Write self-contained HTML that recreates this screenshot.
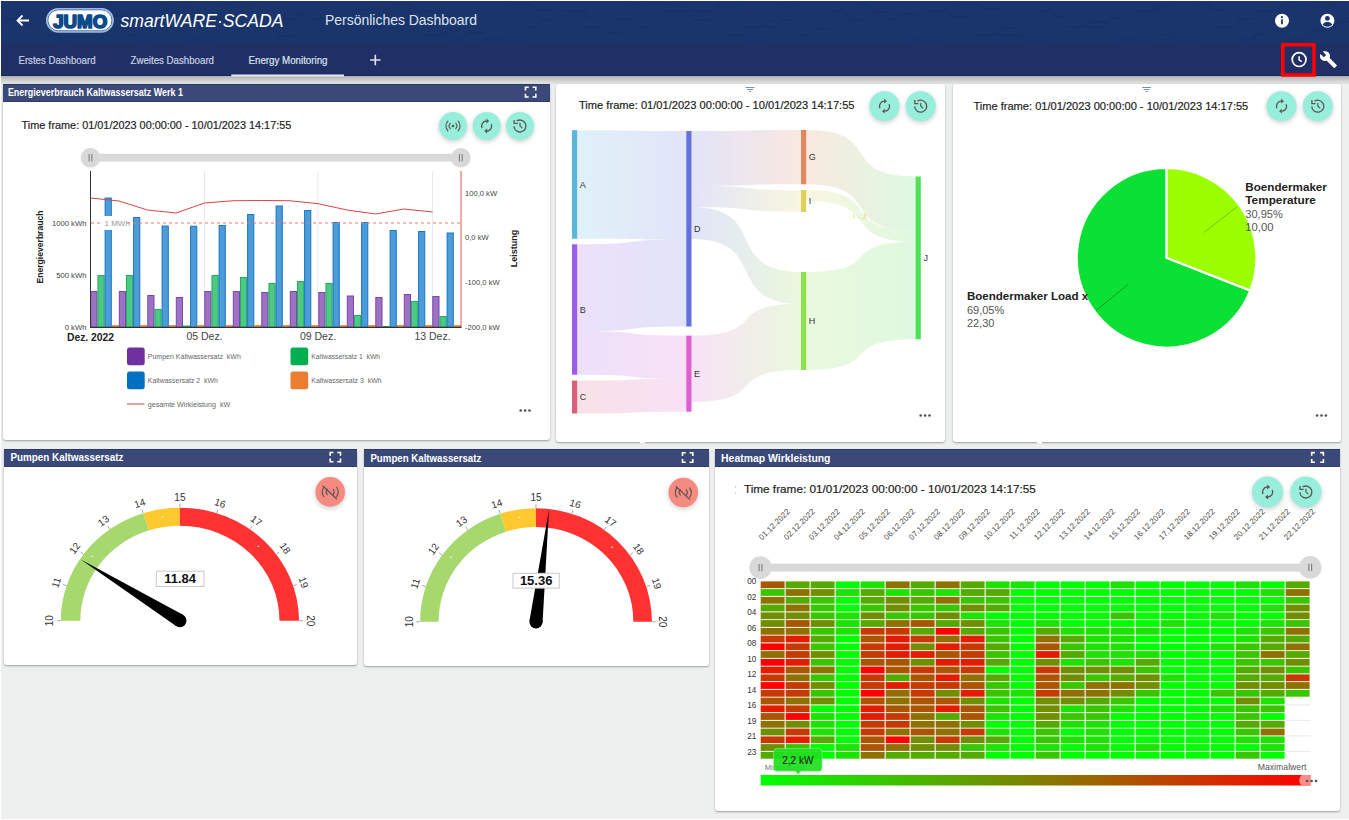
<!DOCTYPE html><html><head><meta charset='utf-8'><title>JUMO smartWARE SCADA</title><style>
*{margin:0;padding:0;box-sizing:border-box}
html,body{width:1349px;height:820px;overflow:hidden;background:#eef0ef;font-family:"Liberation Sans", Arial, sans-serif}
.abs{position:absolute}
#top{position:absolute;left:1px;top:1px;width:1348px;height:42px;background:#19356b}
#tabs{position:absolute;left:1px;top:43px;width:1348px;height:33px;background:#203066;border-bottom:1px solid #17275a}
#shadow{position:absolute;left:1px;top:76px;width:1348px;height:8px;background:linear-gradient(#aeafae,#c4c5c4 35%,#d9dbda 75%,#e2e4e3)}
.panel{position:absolute;background:#fff;border-radius:3px;box-shadow:0 1px 2px rgba(0,0,0,.35)}
.ph{position:absolute;left:0;top:0;right:0;height:18px;background:#3a4977;border-top:1px solid #2b3a6a;border-bottom:1px solid #2e3d6c;color:#fff;font-weight:bold;font-size:10px;line-height:16px;padding-left:6px;white-space:nowrap}
svg text{font-family:"Liberation Sans", Arial, sans-serif}
</style></head><body><div style='position:absolute;left:0;top:0;width:1349px;height:820px;border-left:1px solid #fff;border-top:1px solid #fff;border-bottom:1px solid #fff'></div><div id='top'></div><div id='tabs'></div><div id='shadow'></div><div class='panel' style='left:2.5px;top:83.5px;width:547.5px;height:356.5px'><div class='ph'></div></div><div class='panel' style='left:556px;top:83.5px;width:389px;height:358.5px'></div><div class='panel' style='left:952.5px;top:83.5px;width:388.5px;height:358px'></div><div class='panel' style='left:4px;top:448.5px;width:352.5px;height:216px'><div class='ph'></div></div><div class='panel' style='left:364px;top:449px;width:344.5px;height:217px'><div class='ph'></div></div><div class='panel' style='left:714.5px;top:449px;width:625.5px;height:361.5px'><div class='ph'></div></div><svg class='abs' style='left:0;top:0' width='1349' height='820' viewBox='0 0 1349 820'><defs><filter id='blur' x='-50%' y='-50%' width='200%' height='200%'><feGaussianBlur stdDeviation='2.0'/></filter><linearGradient id='lg0' gradientUnits='userSpaceOnUse' x1='577.2' y1='0' x2='686.3' y2='0'><stop offset='0' stop-color='#5bb6d9'/><stop offset='1' stop-color='#6470dc'/></linearGradient><linearGradient id='lg1' gradientUnits='userSpaceOnUse' x1='577.2' y1='0' x2='686.3' y2='0'><stop offset='0' stop-color='#9b5de5'/><stop offset='1' stop-color='#6470dc'/></linearGradient><linearGradient id='lg2' gradientUnits='userSpaceOnUse' x1='577.2' y1='0' x2='686.3' y2='0'><stop offset='0' stop-color='#9b5de5'/><stop offset='1' stop-color='#dc60d0'/></linearGradient><linearGradient id='lg3' gradientUnits='userSpaceOnUse' x1='577.2' y1='0' x2='686.3' y2='0'><stop offset='0' stop-color='#d9607a'/><stop offset='1' stop-color='#dc60d0'/></linearGradient><linearGradient id='lg4' gradientUnits='userSpaceOnUse' x1='691.5' y1='0' x2='801' y2='0'><stop offset='0' stop-color='#6470dc'/><stop offset='1' stop-color='#e0875e'/></linearGradient><linearGradient id='lg5' gradientUnits='userSpaceOnUse' x1='691.5' y1='0' x2='801' y2='0'><stop offset='0' stop-color='#6470dc'/><stop offset='1' stop-color='#ddd15a'/></linearGradient><linearGradient id='lg6' gradientUnits='userSpaceOnUse' x1='691.5' y1='0' x2='801' y2='0'><stop offset='0' stop-color='#6470dc'/><stop offset='1' stop-color='#8fe04f'/></linearGradient><linearGradient id='lg7' gradientUnits='userSpaceOnUse' x1='691.5' y1='0' x2='801' y2='0'><stop offset='0' stop-color='#dc60d0'/><stop offset='1' stop-color='#8fe04f'/></linearGradient><linearGradient id='lg8' gradientUnits='userSpaceOnUse' x1='806.2' y1='0' x2='915.6' y2='0'><stop offset='0' stop-color='#e0875e'/><stop offset='1' stop-color='#4fe05a'/></linearGradient><linearGradient id='lg9' gradientUnits='userSpaceOnUse' x1='806.2' y1='0' x2='915.6' y2='0'><stop offset='0' stop-color='#ddd15a'/><stop offset='1' stop-color='#4fe05a'/></linearGradient><linearGradient id='lg10' gradientUnits='userSpaceOnUse' x1='806.2' y1='0' x2='915.6' y2='0'><stop offset='0' stop-color='#8fe04f'/><stop offset='1' stop-color='#4fe05a'/></linearGradient></defs><path d='M5 19h14l3.5 5h9M45 35h13l4.2 6h8M75 11h11l5.6 -8h14M91 11h12l3.5 5h17M108 11h11l3.5 5h11M123 35h14l4.2 6h10M154 4h19l0.7 -1h17M186 40h16l0.7 1h16M222 4h11l0.7 -1h18M253 27h20l6.3 9h15M278 19h17l4.2 -6h9M310 19h26l4.9 7h19M338 19h12l6.3 -9h14M357 19h14l5.6 8h8M392 4h20l4.9 7h17M421 35h24l3.5 -5h12M450 40h12l4.9 -7h18M482 40h24l0.7 1h18M507 4h24l4.2 6h17M524 27h11l4.9 -7h10M561 11h22l5.6 8h9M580 27h22l4.2 6h14M611 19h23l5.6 8h11M629 4h15l0.7 -1h18M650 4h25l0.7 -1h12M664 11h23l6.3 9h17M688 11h26l5.6 -8h20M723 35h22l4.2 6h14M740 27h22l4.2 -6h9M760 27h15l4.9 -7h17M775 4h10l0.7 -1h9M800 35h10l4.2 -6h17M826 11h18l6.3 9h13M855 4h13l5.6 8h15M884 19h12l3.5 -5h19M908 40h18l0.7 1h16M922 11h26l4.2 6h19M953 4h26l3.5 5h19M975 35h21l4.9 -7h20M996 35h26l4.2 6h17M1035 11h17l4.2 6h11M1065 27h21l3.5 -5h20M1087 27h18l6.3 -9h13M1115 40h21l0.7 1h11M1132 11h25l4.9 -7h11M1161 35h10l4.2 6h20M1195 4h13l4.2 6h15M1214 27h20l5.6 -8h15M1240 40h12l4.2 -6h10M1254 11h24l5.6 -8h17M1283 40h21l6.3 -9h16M1301 4h10l0.7 -1h19M1319 27h16l3.5 -5h12M1339 19h26l6.3 -9h13' stroke='#15306a' stroke-width='1.3' fill='none' opacity='0.55'/><g id='hdr'><path d='M29 20.5H17.5M22.5 15.5l-5 5 5 5' stroke='#fff' stroke-width='1.8' fill='none'/><rect x='46.6' y='8.6' width='66.6' height='23.4' rx='11.7' fill='#fff' stroke='#9fb5dc' stroke-width='1.3'/><rect x='47.8' y='9.8' width='64.2' height='21' rx='10.5' fill='none' stroke='#2a5a9c' stroke-width='0.9'/><text x='80.2' y='27.6' text-anchor='middle' font-size='17.5' font-weight='bold' fill='#0b4a8a' stroke='#0b4a8a' stroke-width='1.6' stroke-linejoin='round' textLength='54' lengthAdjust='spacingAndGlyphs'>JUMO</text><text x='120.5' y='27' font-size='18.5' font-style='italic' fill='#fff' textLength='163' lengthAdjust='spacingAndGlyphs'>smartWARE·SCADA</text><text x='325' y='25' font-size='14' fill='#dfe3ee' textLength='152' lengthAdjust='spacingAndGlyphs'>Persönliches Dashboard</text><circle cx='1282' cy='20.8' r='7' fill='#fff'/><rect x='1281.1' y='19.3' width='1.8' height='5' fill='#1b3569'/><circle cx='1282' cy='17.2' r='1.1' fill='#1b3569'/><circle cx='1327.4' cy='20.8' r='7' fill='#fff'/><circle cx='1327.4' cy='18.4' r='2.4' fill='#1b3569'/><path d='M1322.6 24.6c1.2-2 3-2.6 4.8-2.6s3.6.6 4.8 2.6c-1.2 1.4-2.9 2.2-4.8 2.2s-3.6-.8-4.8-2.2z' fill='#1b3569'/><text x='18.5' y='63.5' font-size='10' fill='#c9cfe0' stroke='#c9cfe0' stroke-width='0.2' textLength='77' lengthAdjust='spacingAndGlyphs'>Erstes Dashboard</text><text x='130.5' y='63.5' font-size='10' fill='#c9cfe0' stroke='#c9cfe0' stroke-width='0.2' textLength='83.5' lengthAdjust='spacingAndGlyphs'>Zweites Dashboard</text><text x='248.5' y='63.5' font-size='10' fill='#dde1ec' stroke='#dde1ec' stroke-width='0.2' textLength='79' lengthAdjust='spacingAndGlyphs'>Energy Monitoring</text><rect x='231.3' y='74.5' width='112.7' height='2' fill='#e8e8ee'/><path d='M375.3 54.8v10.4M370.1 60h10.4' stroke='#dfe3ee' stroke-width='1.6'/><rect x='1282.8' y='44.8' width='31.2' height='30.2' fill='none' stroke='#ff0000' stroke-width='3.5'/><circle cx='1299.1' cy='59.6' r='6.9' fill='none' stroke='#fff' stroke-width='1.7'/><path d='M1299.1 56.2v3.6l2.6 1.9' stroke='#fff' stroke-width='1.5' fill='none'/><path transform='translate(1319.2,50.3) scale(0.77)' d='M22.7 19l-9.1-9.1c.9-2.3.4-5-1.5-6.9-2-2-5-2.4-7.4-1.3L9 6 6 9 1.6 4.7C.4 7.1.9 10.1 2.9 12.1c1.9 1.9 4.6 2.4 6.9 1.5l9.1 9.1c.4.4 1 .4 1.4 0l2.3-2.3c.5-.4.5-1.1.1-1.4z' fill='#fff'/></g><text x='7.9' y='95.6' font-size='10' font-weight='bold' fill='#fff' textLength='175.1' lengthAdjust='spacingAndGlyphs'>Energieverbrauch Kaltwassersatz Werk 1</text><text x='10.4' y='461.2' font-size='10' font-weight='bold' fill='#fff' textLength='113.1' lengthAdjust='spacingAndGlyphs'>Pumpen Kaltwassersatz</text><text x='370.4' y='461.6' font-size='10' font-weight='bold' fill='#fff' textLength='110.9' lengthAdjust='spacingAndGlyphs'>Pumpen Kaltwassersatz</text><text x='721.1' y='461.6' font-size='10' font-weight='bold' fill='#fff' textLength='109.4' lengthAdjust='spacingAndGlyphs'>Heatmap Wirkleistung</text><path d='M525.5 90.4V87.2H528.7M532.5999999999999 87.2H535.8V90.4M535.8 93.8V97H532.5999999999999M528.7 97H525.5V93.8' stroke='#fff' stroke-width='1.6' fill='none'/><text x='21.6' y='129.3' font-size='10.3' fill='#1e1e1e' stroke='#1e1e1e' stroke-width='0.18' textLength='269.7' lengthAdjust='spacingAndGlyphs'>Time frame: 01/01/2023 00:00:00 - 10/01/2023 14:17:55</text><circle cx='453' cy='127.6' r='14.6' fill='rgba(0,0,0,0.16)' filter='url(#blur)'/><circle cx='453' cy='126' r='14' fill='#96eedb'/><circle cx='453' cy='126' r='1.35' fill='#5f5454'/><path d='M450.27 123.36A3.8 3.8 0 0 0 450.27 128.64M455.73 123.36A3.8 3.8 0 0 1 455.73 128.64' stroke='#5f5454' stroke-width='1.15' fill='none' stroke-linecap='round'/><path d='M447.88 121.23A7.0 7.0 0 0 0 447.88 130.77M458.12 121.23A7.0 7.0 0 0 1 458.12 130.77' stroke='#5f5454' stroke-width='1.15' fill='none' stroke-linecap='round'/><circle cx='486.7' cy='127.6' r='14.6' fill='rgba(0,0,0,0.16)' filter='url(#blur)'/><circle cx='486.7' cy='126' r='14' fill='#96eedb'/><path d='M482.10 128.00A5.0 5.0 0 0 1 486.40 121.00' stroke='#5f5454' stroke-width='1.3' fill='none'/><path d='M491.30 124.00A5.0 5.0 0 0 1 487.00 131.00' stroke='#5f5454' stroke-width='1.3' fill='none'/><path d='M486.30 118.60L489.20 121.00L486.30 123.40Z' fill='#5f5454'/><path d='M487.10 133.40L484.20 131.00L487.10 128.60Z' fill='#5f5454'/><circle cx='520' cy='127.6' r='14.6' fill='rgba(0,0,0,0.16)' filter='url(#blur)'/><circle cx='520' cy='126' r='14' fill='#96eedb'/><path d='M514.00 126.20A6.0 6.0 0 1 0 516.82 120.91' stroke='#5f5454' stroke-width='1.3' fill='none'/><path d='M514.10 119.90V123.40H517.70' stroke='#5f5454' stroke-width='1.3' fill='none'/><path d='M520.00 122.80V125.80L522.30 128.10' stroke='#5f5454' stroke-width='1.2' fill='none'/><rect x='90.5' y='153.8' width='370.5' height='7.8' fill='#d9d9d9'/><circle cx='90.5' cy='157.7' r='9.8' fill='#d9d9d9'/><path d='M89.1 154.0v7.4M91.9 154.0v7.4' stroke='#7d7d7d' stroke-width='1.1'/><circle cx='460.8' cy='157.7' r='9.8' fill='#d9d9d9'/><path d='M459.40000000000003 154.0v7.4M462.2 154.0v7.4' stroke='#7d7d7d' stroke-width='1.1'/><line x1='204.5' y1='171' x2='204.5' y2='327.3' stroke='#e3e3e3' stroke-width='0.8'/><line x1='318' y1='171' x2='318' y2='327.3' stroke='#e3e3e3' stroke-width='0.8'/><line x1='432.5' y1='171' x2='432.5' y2='327.3' stroke='#e3e3e3' stroke-width='0.8'/><rect x='90.80' y='291.50' width='6.20' height='35.80' fill='#9d72c4' stroke='#7b45ad' stroke-width='1'/><rect x='97.95' y='275.50' width='6.20' height='51.80' fill='#4ec983' stroke='#1fae5c' stroke-width='1'/><rect x='105.10' y='198.00' width='6.20' height='129.30' fill='#4c9cd9' stroke='#1b76c3' stroke-width='1'/><rect x='112.25' y='325.70' width='6.20' height='1.60' fill='#f3a465' stroke='#ec7b30' stroke-width='1'/><rect x='119.30' y='291.50' width='6.20' height='35.80' fill='#9d72c4' stroke='#7b45ad' stroke-width='1'/><rect x='126.45' y='275.50' width='6.20' height='51.80' fill='#4ec983' stroke='#1fae5c' stroke-width='1'/><rect x='133.60' y='217.50' width='6.20' height='109.80' fill='#4c9cd9' stroke='#1b76c3' stroke-width='1'/><rect x='140.75' y='325.70' width='6.20' height='1.60' fill='#f3a465' stroke='#ec7b30' stroke-width='1'/><rect x='147.80' y='295.50' width='6.20' height='31.80' fill='#9d72c4' stroke='#7b45ad' stroke-width='1'/><rect x='154.95' y='309.50' width='6.20' height='17.80' fill='#4ec983' stroke='#1fae5c' stroke-width='1'/><rect x='162.10' y='226.00' width='6.20' height='101.30' fill='#4c9cd9' stroke='#1b76c3' stroke-width='1'/><rect x='169.25' y='325.70' width='6.20' height='1.60' fill='#f3a465' stroke='#ec7b30' stroke-width='1'/><rect x='176.30' y='297.50' width='6.20' height='29.80' fill='#9d72c4' stroke='#7b45ad' stroke-width='1'/><rect x='183.45' y='326.00' width='6.20' height='1.30' fill='#4ec983' stroke='#1fae5c' stroke-width='1'/><rect x='190.60' y='226.25' width='6.20' height='101.05' fill='#4c9cd9' stroke='#1b76c3' stroke-width='1'/><rect x='197.75' y='325.70' width='6.20' height='1.60' fill='#f3a465' stroke='#ec7b30' stroke-width='1'/><rect x='204.80' y='291.50' width='6.20' height='35.80' fill='#9d72c4' stroke='#7b45ad' stroke-width='1'/><rect x='211.95' y='275.50' width='6.20' height='51.80' fill='#4ec983' stroke='#1fae5c' stroke-width='1'/><rect x='219.10' y='225.50' width='6.20' height='101.80' fill='#4c9cd9' stroke='#1b76c3' stroke-width='1'/><rect x='226.25' y='325.70' width='6.20' height='1.60' fill='#f3a465' stroke='#ec7b30' stroke-width='1'/><rect x='233.30' y='291.50' width='6.20' height='35.80' fill='#9d72c4' stroke='#7b45ad' stroke-width='1'/><rect x='240.45' y='277.50' width='6.20' height='49.80' fill='#4ec983' stroke='#1fae5c' stroke-width='1'/><rect x='247.60' y='214.50' width='6.20' height='112.80' fill='#4c9cd9' stroke='#1b76c3' stroke-width='1'/><rect x='254.75' y='325.70' width='6.20' height='1.60' fill='#f3a465' stroke='#ec7b30' stroke-width='1'/><rect x='261.80' y='292.50' width='6.20' height='34.80' fill='#9d72c4' stroke='#7b45ad' stroke-width='1'/><rect x='268.95' y='283.50' width='6.20' height='43.80' fill='#4ec983' stroke='#1fae5c' stroke-width='1'/><rect x='276.10' y='206.00' width='6.20' height='121.30' fill='#4c9cd9' stroke='#1b76c3' stroke-width='1'/><rect x='283.25' y='325.70' width='6.20' height='1.60' fill='#f3a465' stroke='#ec7b30' stroke-width='1'/><rect x='290.30' y='291.50' width='6.20' height='35.80' fill='#9d72c4' stroke='#7b45ad' stroke-width='1'/><rect x='297.45' y='281.50' width='6.20' height='45.80' fill='#4ec983' stroke='#1fae5c' stroke-width='1'/><rect x='304.60' y='210.50' width='6.20' height='116.80' fill='#4c9cd9' stroke='#1b76c3' stroke-width='1'/><rect x='311.75' y='325.70' width='6.20' height='1.60' fill='#f3a465' stroke='#ec7b30' stroke-width='1'/><rect x='318.80' y='292.50' width='6.20' height='34.80' fill='#9d72c4' stroke='#7b45ad' stroke-width='1'/><rect x='325.95' y='283.50' width='6.20' height='43.80' fill='#4ec983' stroke='#1fae5c' stroke-width='1'/><rect x='333.10' y='222.50' width='6.20' height='104.80' fill='#4c9cd9' stroke='#1b76c3' stroke-width='1'/><rect x='340.25' y='325.70' width='6.20' height='1.60' fill='#f3a465' stroke='#ec7b30' stroke-width='1'/><rect x='347.30' y='296.00' width='6.20' height='31.30' fill='#9d72c4' stroke='#7b45ad' stroke-width='1'/><rect x='354.45' y='315.50' width='6.20' height='11.80' fill='#4ec983' stroke='#1fae5c' stroke-width='1'/><rect x='361.60' y='222.50' width='6.20' height='104.80' fill='#4c9cd9' stroke='#1b76c3' stroke-width='1'/><rect x='368.75' y='325.70' width='6.20' height='1.60' fill='#f3a465' stroke='#ec7b30' stroke-width='1'/><rect x='375.80' y='297.50' width='6.20' height='29.80' fill='#9d72c4' stroke='#7b45ad' stroke-width='1'/><rect x='382.95' y='326.50' width='6.20' height='0.80' fill='#4ec983' stroke='#1fae5c' stroke-width='1'/><rect x='390.10' y='230.50' width='6.20' height='96.80' fill='#4c9cd9' stroke='#1b76c3' stroke-width='1'/><rect x='397.25' y='325.70' width='6.20' height='1.60' fill='#f3a465' stroke='#ec7b30' stroke-width='1'/><rect x='404.30' y='294.50' width='6.20' height='32.80' fill='#9d72c4' stroke='#7b45ad' stroke-width='1'/><rect x='411.45' y='301.50' width='6.20' height='25.80' fill='#4ec983' stroke='#1fae5c' stroke-width='1'/><rect x='418.60' y='231.50' width='6.20' height='95.80' fill='#4c9cd9' stroke='#1b76c3' stroke-width='1'/><rect x='425.75' y='325.70' width='6.20' height='1.60' fill='#f3a465' stroke='#ec7b30' stroke-width='1'/><rect x='432.80' y='296.50' width='6.20' height='30.80' fill='#9d72c4' stroke='#7b45ad' stroke-width='1'/><rect x='439.95' y='316.50' width='6.20' height='10.80' fill='#4ec983' stroke='#1fae5c' stroke-width='1'/><rect x='447.10' y='233.00' width='6.20' height='94.30' fill='#4c9cd9' stroke='#1b76c3' stroke-width='1'/><rect x='454.25' y='325.70' width='6.20' height='1.60' fill='#f3a465' stroke='#ec7b30' stroke-width='1'/><line x1='90.5' y1='171' x2='90.5' y2='327.3' stroke='#333' stroke-width='1'/><line x1='461' y1='171' x2='461' y2='327.3' stroke='#e05555' stroke-width='1'/><line x1='90' y1='327.3' x2='461.5' y2='327.3' stroke='#333' stroke-width='1.2'/><line x1='91' y1='223' x2='461' y2='223' stroke='#e77' stroke-width='1' stroke-dasharray='3,3'/><rect x='103' y='216' width='24' height='14' fill='#fff'/><text x='104.5' y='226.3' font-size='8' fill='#999'>1 MWh</text><polyline points='90.5,198 119.0,201 147.5,210 176.0,213 204.5,203 233.0,200.75 261.5,200.5 290.0,200.75 318.5,203.75 347.0,210 375.5,214 404.0,209 432.5,212' fill='none' stroke='#d94545' stroke-width='1'/><text x='86.5' y='225.8' font-size='7.7' fill='#444' text-anchor='end'>1000 kWh</text><text x='86.5' y='278.3' font-size='7.7' fill='#444' text-anchor='end'>500 kWh</text><text x='86.5' y='329.8' font-size='7.7' fill='#444' text-anchor='end'>0 kWh</text><text x='465' y='195.6' font-size='7.6' fill='#444'>100,0 kW</text><text x='465' y='240.1' font-size='7.6' fill='#444'>0,0 kW</text><text x='465' y='285.1' font-size='7.6' fill='#444'>-100,0 kW</text><text x='465' y='330.1' font-size='7.6' fill='#444'>-200,0 kW</text><text transform='translate(42.5,247) rotate(-90)' text-anchor='middle' font-size='9' font-weight='bold' fill='#222' textLength='73' lengthAdjust='spacingAndGlyphs'>Energieverbrauch</text><text transform='translate(516.8,248.5) rotate(-90)' text-anchor='middle' font-size='9' font-weight='bold' fill='#222'>Leistung</text><text x='67' y='340.5' font-size='11' font-weight='bold' fill='#222' textLength='47' lengthAdjust='spacingAndGlyphs'>Dez. 2022</text><text x='204.5' y='340' font-size='10.5' fill='#444' text-anchor='middle'>05 Dez.</text><text x='318' y='340' font-size='10.5' fill='#444' text-anchor='middle'>09 Dez.</text><text x='432.5' y='340' font-size='10.5' fill='#444' text-anchor='middle'>13 Dez.</text><rect x='127' y='347.5' width='17.7' height='17.7' rx='2.5' fill='#7030a0'/><text x='147.8' y='359.1' font-size='8' fill='#666' xml:space='preserve' textLength='93' lengthAdjust='spacingAndGlyphs'>Pumpen Kaltwassersatz  kWh</text><rect x='127' y='371.5' width='17.7' height='17.7' rx='2.5' fill='#0070c0'/><text x='147.8' y='383.1' font-size='8' fill='#666' xml:space='preserve' textLength='70.1' lengthAdjust='spacingAndGlyphs'>Kaltwassersatz 2  kWh</text><rect x='290.5' y='347.5' width='17.7' height='17.7' rx='2.5' fill='#00b050'/><text x='311.3' y='359.1' font-size='8' fill='#666' xml:space='preserve' textLength='68.8' lengthAdjust='spacingAndGlyphs'>Kaltwassersatz 1  kWh</text><rect x='290.5' y='371.5' width='17.7' height='17.7' rx='2.5' fill='#ed7d31'/><text x='311.3' y='383.1' font-size='8' fill='#666' xml:space='preserve' textLength='70.3' lengthAdjust='spacingAndGlyphs'>Kaltwassersatz 3  kWh</text><line x1='127' y1='404' x2='144.5' y2='404' stroke='#e06060' stroke-width='1.2'/><text x='147.7' y='407' font-size='8' fill='#666' xml:space='preserve' textLength='82.6' lengthAdjust='spacingAndGlyphs'>gesamte Wirkleistung  kW</text><circle cx='520.7' cy='410.5' r='1.35' fill='#555'/><circle cx='525.1' cy='410.5' r='1.35' fill='#555'/><circle cx='529.5' cy='410.5' r='1.35' fill='#555'/><path d='M745.6 87.5h8.8M747 89.5h6M749 91.5h2' stroke='#7080a8' stroke-width='0.9'/><text x='579' y='109.3' font-size='10.3' fill='#1e1e1e' stroke='#1e1e1e' stroke-width='0.18' textLength='275.5' lengthAdjust='spacingAndGlyphs'>Time frame: 01/01/2023 00:00:00 - 10/01/2023 14:17:55</text><circle cx='884.5' cy='107.8' r='15.6' fill='rgba(0,0,0,0.16)' filter='url(#blur)'/><circle cx='884.5' cy='106.2' r='15' fill='#96eedb'/><path d='M879.90 108.20A5.0 5.0 0 0 1 884.20 101.20' stroke='#5f5454' stroke-width='1.3' fill='none'/><path d='M889.10 104.20A5.0 5.0 0 0 1 884.80 111.20' stroke='#5f5454' stroke-width='1.3' fill='none'/><path d='M884.10 98.80L887.00 101.20L884.10 103.60Z' fill='#5f5454'/><path d='M884.90 113.60L882.00 111.20L884.90 108.80Z' fill='#5f5454'/><circle cx='920.7' cy='107.8' r='15.6' fill='rgba(0,0,0,0.16)' filter='url(#blur)'/><circle cx='920.7' cy='106.2' r='15' fill='#96eedb'/><path d='M914.70 106.40A6.0 6.0 0 1 0 917.52 101.11' stroke='#5f5454' stroke-width='1.3' fill='none'/><path d='M914.80 100.10V103.60H918.40' stroke='#5f5454' stroke-width='1.3' fill='none'/><path d='M920.70 103.00V106.00L923.00 108.30' stroke='#5f5454' stroke-width='1.2' fill='none'/><path d='M577.2 130.2C655.75 130.2 607.75 131 686.3 131L686.3 239.6C607.75 239.6 655.75 238.8 577.2 238.8Z' fill='url(#lg0)' fill-opacity='0.19'/><path d='M577.2 244.3C655.75 244.3 607.75 239.6 686.3 239.6L686.3 326.5C607.75 326.5 655.75 331.3 577.2 331.3Z' fill='url(#lg1)' fill-opacity='0.19'/><path d='M577.2 331.3C655.75 331.3 607.75 335.6 686.3 335.6L686.3 378.8C607.75 378.8 655.75 374.7 577.2 374.7Z' fill='url(#lg2)' fill-opacity='0.19'/><path d='M577.2 380.6C655.75 380.6 607.75 378.8 686.3 378.8L686.3 411.7C607.75 411.7 655.75 413.5 577.2 413.5Z' fill='url(#lg3)' fill-opacity='0.19'/><path d='M691.5 131C770.34 131 722.16 130 801 130L801 184.3C722.16 184.3 770.34 185.8 691.5 185.8Z' fill='url(#lg4)' fill-opacity='0.19'/><path d='M691.5 185.8C770.34 185.8 722.16 190.3 801 190.3L801 211.8C722.16 211.8 770.34 207.3 691.5 207.3Z' fill='url(#lg5)' fill-opacity='0.19'/><path d='M691.5 207.3C770.34 207.3 722.16 272 801 272L801 303.8C722.16 303.8 770.34 239 691.5 239Z' fill='url(#lg6)' fill-opacity='0.19'/><path d='M691.5 335.6C770.34 335.6 722.16 303.8 801 303.8L801 370C722.16 370 770.34 401.8 691.5 401.8Z' fill='url(#lg7)' fill-opacity='0.19'/><path d='M806.2 130C884.97 130 836.83 176.5 915.6 176.5L915.6 230.8C836.83 230.8 884.97 184.3 806.2 184.3Z' fill='url(#lg8)' fill-opacity='0.19'/><path d='M806.2 190C884.97 190 836.83 230.8 915.6 230.8L915.6 241.8C836.83 241.8 884.97 201 806.2 201Z' fill='url(#lg9)' fill-opacity='0.19'/><path d='M806.2 272C884.97 272 836.83 241.8 915.6 241.8L915.6 339.3C836.83 339.3 884.97 370 806.2 370Z' fill='url(#lg10)' fill-opacity='0.19'/><rect x='572' y='130.2' width='5.2' height='108.60000000000002' fill='#5bb6d9'/><rect x='572' y='244.3' width='5.2' height='130.39999999999998' fill='#9b5de5'/><rect x='572' y='380.6' width='5.2' height='32.89999999999998' fill='#d9607a'/><rect x='686.3' y='131' width='5.2' height='195.5' fill='#6470dc'/><rect x='686.3' y='335.6' width='5.2' height='76.09999999999997' fill='#dc60d0'/><rect x='801' y='130' width='5.2' height='54.30000000000001' fill='#e0875e'/><rect x='801' y='190' width='5.2' height='22' fill='#ddd15a'/><rect x='801' y='272' width='5.2' height='98' fill='#8fe04f'/><rect x='915.6' y='176.5' width='5.2' height='162.8' fill='#4fe05a'/><text x='579.8000000000001' y='187.7' font-size='9' fill='#333'>A</text><text x='579.8000000000001' y='312.7' font-size='9' fill='#333'>B</text><text x='579.8000000000001' y='400.25' font-size='9' fill='#333'>C</text><text x='694.1' y='231.95' font-size='9' fill='#333'>D</text><text x='694.1' y='376.84999999999997' font-size='9' fill='#333'>E</text><text x='808.8000000000001' y='160.35' font-size='9' fill='#333'>G</text><text x='808.8000000000001' y='204.2' font-size='9' fill='#333'>I</text><text x='808.8000000000001' y='324.2' font-size='9' fill='#333'>H</text><text x='923.4000000000001' y='261.09999999999997' font-size='9' fill='#333'>J</text><text x='853' y='219' font-size='8' fill='#e3d35e'>I - J</text><circle cx='920.7' cy='415.5' r='1.35' fill='#555'/><circle cx='925.1' cy='415.5' r='1.35' fill='#555'/><circle cx='929.5' cy='415.5' r='1.35' fill='#555'/><path d='M1142.1 87.5h8.8M1143.5 89.5h6M1145.5 91.5h2' stroke='#7080a8' stroke-width='0.9'/><text x='973.4' y='110.3' font-size='10.3' fill='#1e1e1e' stroke='#1e1e1e' stroke-width='0.18' textLength='274.9' lengthAdjust='spacingAndGlyphs'>Time frame: 01/01/2023 00:00:00 - 10/01/2023 14:17:55</text><circle cx='1281.5' cy='107.8' r='15.6' fill='rgba(0,0,0,0.16)' filter='url(#blur)'/><circle cx='1281.5' cy='106.2' r='15' fill='#96eedb'/><path d='M1276.90 108.20A5.0 5.0 0 0 1 1281.20 101.20' stroke='#5f5454' stroke-width='1.3' fill='none'/><path d='M1286.10 104.20A5.0 5.0 0 0 1 1281.80 111.20' stroke='#5f5454' stroke-width='1.3' fill='none'/><path d='M1281.10 98.80L1284.00 101.20L1281.10 103.60Z' fill='#5f5454'/><path d='M1281.90 113.60L1279.00 111.20L1281.90 108.80Z' fill='#5f5454'/><circle cx='1317.8' cy='107.8' r='15.6' fill='rgba(0,0,0,0.16)' filter='url(#blur)'/><circle cx='1317.8' cy='106.2' r='15' fill='#96eedb'/><path d='M1311.80 106.40A6.0 6.0 0 1 0 1314.62 101.11' stroke='#5f5454' stroke-width='1.3' fill='none'/><path d='M1311.90 100.10V103.60H1315.50' stroke='#5f5454' stroke-width='1.3' fill='none'/><path d='M1317.80 103.00V106.00L1320.10 108.30' stroke='#5f5454' stroke-width='1.2' fill='none'/><path d='M1166.6 257.8L1250.20 290.60A89.8 89.8 0 1 1 1166.6 168.0Z' fill='#0be035' stroke='#fff' stroke-width='2.2' stroke-linejoin='miter'/><path d='M1166.6 257.8L1166.6 168.0A89.8 89.8 0 0 1 1250.20 290.60Z' fill='#9bff00' stroke='#fff' stroke-width='2.2' stroke-linejoin='miter'/><line x1='1204' y1='232.4' x2='1237' y2='206.8' stroke='#5a7a00' stroke-width='0.7' opacity='0.7'/><line x1='1096.2' y1='310.4' x2='1128.2' y2='284.3' stroke='#076d1c' stroke-width='0.7' opacity='0.8'/><text x='1245.3' y='190.8' font-size='11' font-weight='bold' fill='#222' textLength='81.6' lengthAdjust='spacingAndGlyphs'>Boendermaker</text><text x='1245.3' y='204.3' font-size='11' font-weight='bold' fill='#222' textLength='70.5' lengthAdjust='spacingAndGlyphs'>Temperature</text><text x='1245.3' y='218.3' font-size='11' fill='#555' textLength='37.5' lengthAdjust='spacingAndGlyphs'>30,95%</text><text x='1245.3' y='230.6' font-size='11' fill='#555' textLength='28.2' lengthAdjust='spacingAndGlyphs'>10,00</text><text x='966.9' y='300.3' font-size='11' font-weight='bold' fill='#222' textLength='121.3' lengthAdjust='spacingAndGlyphs'>Boendermaker Load x</text><text x='966.9' y='314.4' font-size='11' fill='#555' textLength='37.4' lengthAdjust='spacingAndGlyphs'>69,05%</text><text x='966.9' y='327.2' font-size='11' fill='#555' textLength='27.5' lengthAdjust='spacingAndGlyphs'>22,30</text><circle cx='1317.1' cy='415.5' r='1.35' fill='#555'/><circle cx='1321.5' cy='415.5' r='1.35' fill='#555'/><circle cx='1325.9' cy='415.5' r='1.35' fill='#555'/><path d='M330.2 455.7V452.5H333.4M337.3 452.5H340.5V455.7M340.5 458.6V461.8H337.3M333.4 461.8H330.2V458.6' stroke='#fff' stroke-width='1.6' fill='none'/><circle cx='330.2' cy='493.5' r='15.4' fill='rgba(0,0,0,0.16)' filter='url(#blur)'/><circle cx='330.2' cy='491.9' r='14.8' fill='#f48a80'/><path d='M327.30 489.29A3.9 3.9 0 0 0 327.30 494.51M333.10 489.29A3.9 3.9 0 0 1 333.10 494.51' stroke='#605454' stroke-width='1.2' fill='none' stroke-linecap='round'/><path d='M323.81 487.26A7.9 7.9 0 0 0 323.81 496.54M336.59 487.26A7.9 7.9 0 0 1 336.59 496.54' stroke='#605454' stroke-width='1.2' fill='none' stroke-linecap='round'/><path d='M322.60 485.70L336.80 499.00' stroke='#605454' stroke-width='1.25'/><path d='M60.80 620.70A119.1 113 0 0 1 143.10 513.23L149.12 530.35A99.6 95 0 0 0 80.30 620.70Z' fill='#a6d86e'/><path d='M143.10 513.23A119.1 113 0 0 1 179.90 507.70L179.90 525.70A99.6 95 0 0 0 149.12 530.35Z' fill='#fdc92f'/><path d='M179.90 507.70A119.1 113 0 0 1 299.00 620.70L279.50 620.70A99.6 95 0 0 0 179.90 525.70Z' fill='#ff3232'/><line x1='60.50' y1='620.70' x2='57.00' y2='620.70' stroke='#999' stroke-width='0.9'/><text transform='translate(49.80,620.70) rotate(-90)' text-anchor='middle' y='3.5' font-size='10' fill='#333'>10</text><line x1='66.34' y1='585.69' x2='63.02' y2='584.61' stroke='#999' stroke-width='0.9'/><text transform='translate(56.17,582.54) rotate(-72)' text-anchor='middle' y='3.5' font-size='10' fill='#333'>11</text><line x1='83.30' y1='554.10' x2='80.47' y2='552.05' stroke='#999' stroke-width='0.9'/><text transform='translate(74.65,548.11) rotate(-54)' text-anchor='middle' y='3.5' font-size='10' fill='#333'>12</text><line x1='109.72' y1='529.04' x2='107.66' y2='526.21' stroke='#999' stroke-width='0.9'/><text transform='translate(103.43,520.79) rotate(-36)' text-anchor='middle' y='3.5' font-size='10' fill='#333'>13</text><line x1='143.00' y1='512.95' x2='141.92' y2='509.62' stroke='#999' stroke-width='0.9'/><text transform='translate(139.70,503.24) rotate(-18)' text-anchor='middle' y='3.5' font-size='10' fill='#333'>14</text><line x1='179.90' y1='507.40' x2='179.90' y2='503.90' stroke='#999' stroke-width='0.9'/><text transform='translate(179.90,497.20) rotate(0)' text-anchor='middle' y='3.5' font-size='10' fill='#333'>15</text><line x1='216.80' y1='512.95' x2='217.88' y2='509.62' stroke='#999' stroke-width='0.9'/><text transform='translate(220.10,503.24) rotate(18)' text-anchor='middle' y='3.5' font-size='10' fill='#333'>16</text><line x1='250.08' y1='529.04' x2='252.14' y2='526.21' stroke='#999' stroke-width='0.9'/><text transform='translate(256.37,520.79) rotate(36)' text-anchor='middle' y='3.5' font-size='10' fill='#333'>17</text><line x1='276.50' y1='554.10' x2='279.33' y2='552.05' stroke='#999' stroke-width='0.9'/><text transform='translate(285.15,548.11) rotate(54)' text-anchor='middle' y='3.5' font-size='10' fill='#333'>18</text><line x1='293.46' y1='585.69' x2='296.78' y2='584.61' stroke='#999' stroke-width='0.9'/><text transform='translate(303.63,582.54) rotate(72)' text-anchor='middle' y='3.5' font-size='10' fill='#333'>19</text><line x1='299.30' y1='620.70' x2='302.80' y2='620.70' stroke='#999' stroke-width='0.9'/><text transform='translate(310.00,620.70) rotate(90)' text-anchor='middle' y='3.5' font-size='10' fill='#333'>20</text><rect x='91.38' y='555.79' width='2' height='1' fill='#fff' opacity='0.9'/><rect x='161.57' y='516.40' width='2' height='1' fill='#fff' opacity='0.9'/><rect x='257.22' y='545.89' width='2' height='1' fill='#fff' opacity='0.9'/><path d='M80.82 559.39L183.37 615.09L176.43 626.31Z' fill='#000'/><circle cx='179.9' cy='620.7' r='6.6' fill='#000'/><rect x='156.3' y='571.2' width='47.599999999999994' height='15.299999999999955' fill='#fff' stroke='#c8c8c8' stroke-width='1'/><text x='180.10000000000002' y='583.2' text-anchor='middle' font-size='13' font-weight='bold' fill='#111'>11.84</text><path d='M682.5 456.0V452.8H685.7M689.5999999999999 452.8H692.8V456.0M692.8 459.0V462.2H689.5999999999999M685.7 462.2H682.5V459.0' stroke='#fff' stroke-width='1.6' fill='none'/><circle cx='683.3' cy='494.1' r='15.4' fill='rgba(0,0,0,0.16)' filter='url(#blur)'/><circle cx='683.3' cy='492.5' r='14.8' fill='#f48a80'/><path d='M680.40 489.89A3.9 3.9 0 0 0 680.40 495.11M686.20 489.89A3.9 3.9 0 0 1 686.20 495.11' stroke='#605454' stroke-width='1.2' fill='none' stroke-linecap='round'/><path d='M676.91 487.86A7.9 7.9 0 0 0 676.91 497.14M689.69 487.86A7.9 7.9 0 0 1 689.69 497.14' stroke='#605454' stroke-width='1.2' fill='none' stroke-linecap='round'/><path d='M675.70 486.30L689.90 499.60' stroke='#605454' stroke-width='1.25'/><path d='M420.10 621.80A115.9 113.6 0 0 1 500.18 513.76L505.90 531.64A97.4 94.8 0 0 0 438.60 621.80Z' fill='#a6d86e'/><path d='M500.18 513.76A115.9 113.6 0 0 1 536.00 508.20L536.00 527.00A97.4 94.8 0 0 0 505.90 531.64Z' fill='#fdc92f'/><path d='M536.00 508.20A115.9 113.6 0 0 1 651.90 621.80L633.40 621.80A97.4 94.8 0 0 0 536.00 527.00Z' fill='#ff3232'/><line x1='419.80' y1='621.80' x2='416.30' y2='621.80' stroke='#999' stroke-width='0.9'/><text transform='translate(409.10,621.80) rotate(-90)' text-anchor='middle' y='3.5' font-size='10' fill='#333'>10</text><line x1='425.49' y1='586.60' x2='422.16' y2='585.52' stroke='#999' stroke-width='0.9'/><text transform='translate(415.31,583.45) rotate(-72)' text-anchor='middle' y='3.5' font-size='10' fill='#333'>11</text><line x1='441.99' y1='554.85' x2='439.16' y2='552.79' stroke='#999' stroke-width='0.9'/><text transform='translate(433.34,548.86) rotate(-54)' text-anchor='middle' y='3.5' font-size='10' fill='#333'>12</text><line x1='467.70' y1='529.65' x2='465.64' y2='526.82' stroke='#999' stroke-width='0.9'/><text transform='translate(461.41,521.40) rotate(-36)' text-anchor='middle' y='3.5' font-size='10' fill='#333'>13</text><line x1='500.09' y1='513.47' x2='499.01' y2='510.15' stroke='#999' stroke-width='0.9'/><text transform='translate(496.79,503.77) rotate(-18)' text-anchor='middle' y='3.5' font-size='10' fill='#333'>14</text><line x1='536.00' y1='507.90' x2='536.00' y2='504.40' stroke='#999' stroke-width='0.9'/><text transform='translate(536.00,497.70) rotate(0)' text-anchor='middle' y='3.5' font-size='10' fill='#333'>15</text><line x1='571.91' y1='513.47' x2='572.99' y2='510.15' stroke='#999' stroke-width='0.9'/><text transform='translate(575.21,503.77) rotate(18)' text-anchor='middle' y='3.5' font-size='10' fill='#333'>16</text><line x1='604.30' y1='529.65' x2='606.36' y2='526.82' stroke='#999' stroke-width='0.9'/><text transform='translate(610.59,521.40) rotate(36)' text-anchor='middle' y='3.5' font-size='10' fill='#333'>17</text><line x1='630.01' y1='554.85' x2='632.84' y2='552.79' stroke='#999' stroke-width='0.9'/><text transform='translate(638.66,548.86) rotate(54)' text-anchor='middle' y='3.5' font-size='10' fill='#333'>18</text><line x1='646.51' y1='586.60' x2='649.84' y2='585.52' stroke='#999' stroke-width='0.9'/><text transform='translate(656.69,583.45) rotate(72)' text-anchor='middle' y='3.5' font-size='10' fill='#333'>19</text><line x1='652.20' y1='621.80' x2='655.70' y2='621.80' stroke='#999' stroke-width='0.9'/><text transform='translate(662.90,621.80) rotate(90)' text-anchor='middle' y='3.5' font-size='10' fill='#333'>20</text><rect x='449.83' y='556.55' width='2' height='1' fill='#fff' opacity='0.9'/><rect x='518.14' y='516.95' width='2' height='1' fill='#fff' opacity='0.9'/><rect x='611.22' y='546.60' width='2' height='1' fill='#fff' opacity='0.9'/><path d='M548.99 509.72L542.56 622.56L529.44 621.04Z' fill='#000'/><circle cx='536' cy='621.8' r='6.6' fill='#000'/><rect x='513' y='573.3' width='46.299999999999955' height='14.800000000000068' fill='#fff' stroke='#c8c8c8' stroke-width='1'/><text x='536.15' y='584.8000000000001' text-anchor='middle' font-size='13' font-weight='bold' fill='#111'>15.36</text><path d='M1311.7 455.8V452.6H1314.9M1320.2 452.6H1323.4V455.8M1323.4 459.0V462.2H1320.2M1314.9 462.2H1311.7V459.0' stroke='#fff' stroke-width='1.6' fill='none'/><circle cx='735.6' cy='486.9' r='0.65' fill='#aaa'/><circle cx='735.6' cy='493.1' r='0.65' fill='#aaa'/><text x='743.9' y='493.1' font-size='10.3' fill='#1e1e1e' stroke='#1e1e1e' stroke-width='0.18' textLength='292' lengthAdjust='spacingAndGlyphs'>Time frame: 01/01/2023 00:00:00 - 10/01/2023 14:17:55</text><circle cx='1267.6' cy='493.6' r='16.1' fill='rgba(0,0,0,0.16)' filter='url(#blur)'/><circle cx='1267.6' cy='492' r='15.5' fill='#96eedb'/><path d='M1263.00 494.00A5.0 5.0 0 0 1 1267.30 487.00' stroke='#5f5454' stroke-width='1.3' fill='none'/><path d='M1272.20 490.00A5.0 5.0 0 0 1 1267.90 497.00' stroke='#5f5454' stroke-width='1.3' fill='none'/><path d='M1267.20 484.60L1270.10 487.00L1267.20 489.40Z' fill='#5f5454'/><path d='M1268.00 499.40L1265.10 497.00L1268.00 494.60Z' fill='#5f5454'/><circle cx='1305.9' cy='493.6' r='16.1' fill='rgba(0,0,0,0.16)' filter='url(#blur)'/><circle cx='1305.9' cy='492' r='15.5' fill='#96eedb'/><path d='M1299.90 492.20A6.0 6.0 0 1 0 1302.72 486.91' stroke='#5f5454' stroke-width='1.3' fill='none'/><path d='M1300.00 485.90V489.40H1303.60' stroke='#5f5454' stroke-width='1.3' fill='none'/><path d='M1305.90 488.80V491.80L1308.20 494.10' stroke='#5f5454' stroke-width='1.2' fill='none'/><text transform='translate(790.4,512.2) rotate(-45)' text-anchor='end' font-size='8' fill='#4a4a4a' y='0'>01.12.2022</text><text transform='translate(815.4,512.2) rotate(-45)' text-anchor='end' font-size='8' fill='#4a4a4a' y='0'>02.12.2022</text><text transform='translate(840.4,512.2) rotate(-45)' text-anchor='end' font-size='8' fill='#4a4a4a' y='0'>03.12.2022</text><text transform='translate(865.4,512.2) rotate(-45)' text-anchor='end' font-size='8' fill='#4a4a4a' y='0'>04.12.2022</text><text transform='translate(890.4,512.2) rotate(-45)' text-anchor='end' font-size='8' fill='#4a4a4a' y='0'>05.12.2022</text><text transform='translate(915.4,512.2) rotate(-45)' text-anchor='end' font-size='8' fill='#4a4a4a' y='0'>06.12.2022</text><text transform='translate(940.4,512.2) rotate(-45)' text-anchor='end' font-size='8' fill='#4a4a4a' y='0'>07.12.2022</text><text transform='translate(965.4,512.2) rotate(-45)' text-anchor='end' font-size='8' fill='#4a4a4a' y='0'>08.12.2022</text><text transform='translate(990.4,512.2) rotate(-45)' text-anchor='end' font-size='8' fill='#4a4a4a' y='0'>09.12.2022</text><text transform='translate(1015.4,512.2) rotate(-45)' text-anchor='end' font-size='8' fill='#4a4a4a' y='0'>10.12.2022</text><text transform='translate(1040.4,512.2) rotate(-45)' text-anchor='end' font-size='8' fill='#4a4a4a' y='0'>11.12.2022</text><text transform='translate(1065.4,512.2) rotate(-45)' text-anchor='end' font-size='8' fill='#4a4a4a' y='0'>12.12.2022</text><text transform='translate(1090.4,512.2) rotate(-45)' text-anchor='end' font-size='8' fill='#4a4a4a' y='0'>13.12.2022</text><text transform='translate(1115.4,512.2) rotate(-45)' text-anchor='end' font-size='8' fill='#4a4a4a' y='0'>14.12.2022</text><text transform='translate(1140.4,512.2) rotate(-45)' text-anchor='end' font-size='8' fill='#4a4a4a' y='0'>15.12.2022</text><text transform='translate(1165.4,512.2) rotate(-45)' text-anchor='end' font-size='8' fill='#4a4a4a' y='0'>16.12.2022</text><text transform='translate(1190.4,512.2) rotate(-45)' text-anchor='end' font-size='8' fill='#4a4a4a' y='0'>17.12.2022</text><text transform='translate(1215.4,512.2) rotate(-45)' text-anchor='end' font-size='8' fill='#4a4a4a' y='0'>18.12.2022</text><text transform='translate(1240.4,512.2) rotate(-45)' text-anchor='end' font-size='8' fill='#4a4a4a' y='0'>19.12.2022</text><text transform='translate(1265.4,512.2) rotate(-45)' text-anchor='end' font-size='8' fill='#4a4a4a' y='0'>20.12.2022</text><text transform='translate(1290.4,512.2) rotate(-45)' text-anchor='end' font-size='8' fill='#4a4a4a' y='0'>21.12.2022</text><text transform='translate(1315.4,512.2) rotate(-45)' text-anchor='end' font-size='8' fill='#4a4a4a' y='0'>22.12.2022</text><rect x='760.5' y='563.6' width='549.7' height='8' fill='#d9d9d9'/><circle cx='760.5' cy='567.6' r='11.3' fill='#d9d9d9'/><path d='M759.1 563.9v7.4M761.9 563.9v7.4' stroke='#7d7d7d' stroke-width='1.1'/><circle cx='1310.2' cy='567.4' r='11.3' fill='#d9d9d9'/><path d='M1308.8 563.6999999999999v7.4M1311.6000000000001 563.6999999999999v7.4' stroke='#7d7d7d' stroke-width='1.1'/><text x='756.3' y='584.1' text-anchor='end' font-size='8.2' fill='#333'>00</text><text x='756.3' y='599.6' text-anchor='end' font-size='8.2' fill='#333'>02</text><text x='756.3' y='615.1' text-anchor='end' font-size='8.2' fill='#333'>04</text><text x='756.3' y='630.6' text-anchor='end' font-size='8.2' fill='#333'>06</text><text x='756.3' y='646.1' text-anchor='end' font-size='8.2' fill='#333'>08</text><text x='756.3' y='661.6' text-anchor='end' font-size='8.2' fill='#333'>10</text><text x='756.3' y='677.1' text-anchor='end' font-size='8.2' fill='#333'>12</text><text x='756.3' y='692.6' text-anchor='end' font-size='8.2' fill='#333'>14</text><text x='756.3' y='708.1' text-anchor='end' font-size='8.2' fill='#333'>16</text><text x='756.3' y='723.6' text-anchor='end' font-size='8.2' fill='#333'>19</text><text x='756.3' y='739.1' text-anchor='end' font-size='8.2' fill='#333'>21</text><text x='756.3' y='754.6' text-anchor='end' font-size='8.2' fill='#333'>23</text><rect x='760.7' y='581.4' width='550' height='178.25' fill='#fff'/><rect x='760.7' y='581.4' width='23.9' height='6.8' fill='#aa5500'/><rect x='760.7' y='589.1' width='23.9' height='6.8' fill='#39c600'/><rect x='760.7' y='596.9' width='23.9' height='6.8' fill='#8e7100'/><rect x='760.7' y='604.6' width='23.9' height='6.8' fill='#55aa00'/><rect x='760.7' y='612.4' width='23.9' height='6.8' fill='#718e00'/><rect x='760.7' y='620.1' width='23.9' height='6.8' fill='#718e00'/><rect x='760.7' y='627.9' width='23.9' height='6.8' fill='#8e7100'/><rect x='760.7' y='635.6' width='23.9' height='6.8' fill='#c63900'/><rect x='760.7' y='643.4' width='23.9' height='6.8' fill='#ff0000'/><rect x='760.7' y='651.1' width='23.9' height='6.8' fill='#8e7100'/><rect x='760.7' y='658.9' width='23.9' height='6.8' fill='#ff0000'/><rect x='760.7' y='666.6' width='23.9' height='6.8' fill='#e31c00'/><rect x='760.7' y='674.4' width='23.9' height='6.8' fill='#c63900'/><rect x='760.7' y='682.1' width='23.9' height='6.8' fill='#ff0000'/><rect x='760.7' y='689.9' width='23.9' height='6.8' fill='#c63900'/><rect x='760.7' y='697.6' width='23.9' height='6.8' fill='#aa5500'/><rect x='760.7' y='705.4' width='23.9' height='6.8' fill='#e31c00'/><rect x='760.7' y='713.1' width='23.9' height='6.8' fill='#aa5500'/><rect x='760.7' y='720.9' width='23.9' height='6.8' fill='#8e7100'/><rect x='760.7' y='728.6' width='23.9' height='6.8' fill='#718e00'/><rect x='760.7' y='736.4' width='23.9' height='6.8' fill='#c63900'/><rect x='760.7' y='744.1' width='23.9' height='6.8' fill='#718e00'/><rect x='760.7' y='751.9' width='23.9' height='6.8' fill='#55aa00'/><rect x='785.7' y='581.4' width='23.9' height='6.8' fill='#55aa00'/><rect x='785.7' y='589.1' width='23.9' height='6.8' fill='#8e7100'/><rect x='785.7' y='596.9' width='23.9' height='6.8' fill='#55aa00'/><rect x='785.7' y='604.6' width='23.9' height='6.8' fill='#8e7100'/><rect x='785.7' y='612.4' width='23.9' height='6.8' fill='#718e00'/><rect x='785.7' y='620.1' width='23.9' height='6.8' fill='#aa5500'/><rect x='785.7' y='627.9' width='23.9' height='6.8' fill='#8e7100'/><rect x='785.7' y='635.6' width='23.9' height='6.8' fill='#e31c00'/><rect x='785.7' y='643.4' width='23.9' height='6.8' fill='#c63900'/><rect x='785.7' y='651.1' width='23.9' height='6.8' fill='#c63900'/><rect x='785.7' y='658.9' width='23.9' height='6.8' fill='#e31c00'/><rect x='785.7' y='666.6' width='23.9' height='6.8' fill='#aa5500'/><rect x='785.7' y='674.4' width='23.9' height='6.8' fill='#8e7100'/><rect x='785.7' y='682.1' width='23.9' height='6.8' fill='#c63900'/><rect x='785.7' y='689.9' width='23.9' height='6.8' fill='#c63900'/><rect x='785.7' y='697.6' width='23.9' height='6.8' fill='#8e7100'/><rect x='785.7' y='705.4' width='23.9' height='6.8' fill='#c63900'/><rect x='785.7' y='713.1' width='23.9' height='6.8' fill='#ff0000'/><rect x='785.7' y='720.9' width='23.9' height='6.8' fill='#718e00'/><rect x='785.7' y='728.6' width='23.9' height='6.8' fill='#c63900'/><rect x='785.7' y='736.4' width='23.9' height='6.8' fill='#e31c00'/><rect x='785.7' y='744.1' width='23.9' height='6.8' fill='#39c600'/><rect x='785.7' y='751.9' width='23.9' height='6.8' fill='#1ce300'/><rect x='810.7' y='581.4' width='23.9' height='6.8' fill='#55aa00'/><rect x='810.7' y='589.1' width='23.9' height='6.8' fill='#718e00'/><rect x='810.7' y='596.9' width='23.9' height='6.8' fill='#39c600'/><rect x='810.7' y='604.6' width='23.9' height='6.8' fill='#39c600'/><rect x='810.7' y='612.4' width='23.9' height='6.8' fill='#39c600'/><rect x='810.7' y='620.1' width='23.9' height='6.8' fill='#718e00'/><rect x='810.7' y='627.9' width='23.9' height='6.8' fill='#39c600'/><rect x='810.7' y='635.6' width='23.9' height='6.8' fill='#55aa00'/><rect x='810.7' y='643.4' width='23.9' height='6.8' fill='#39c600'/><rect x='810.7' y='651.1' width='23.9' height='6.8' fill='#718e00'/><rect x='810.7' y='658.9' width='23.9' height='6.8' fill='#39c600'/><rect x='810.7' y='666.6' width='23.9' height='6.8' fill='#8e7100'/><rect x='810.7' y='674.4' width='23.9' height='6.8' fill='#39c600'/><rect x='810.7' y='682.1' width='23.9' height='6.8' fill='#718e00'/><rect x='810.7' y='689.9' width='23.9' height='6.8' fill='#39c600'/><rect x='810.7' y='697.6' width='23.9' height='6.8' fill='#718e00'/><rect x='810.7' y='705.4' width='23.9' height='6.8' fill='#00ff00'/><rect x='810.7' y='713.1' width='23.9' height='6.8' fill='#1ce300'/><rect x='810.7' y='720.9' width='23.9' height='6.8' fill='#1ce300'/><rect x='810.7' y='728.6' width='23.9' height='6.8' fill='#1ce300'/><rect x='810.7' y='736.4' width='23.9' height='6.8' fill='#55aa00'/><rect x='810.7' y='744.1' width='23.9' height='6.8' fill='#00ff00'/><rect x='810.7' y='751.9' width='23.9' height='6.8' fill='#00ff00'/><rect x='835.7' y='581.4' width='23.9' height='6.8' fill='#00ff00'/><rect x='835.7' y='589.1' width='23.9' height='6.8' fill='#1ce300'/><rect x='835.7' y='596.9' width='23.9' height='6.8' fill='#00ff00'/><rect x='835.7' y='604.6' width='23.9' height='6.8' fill='#00ff00'/><rect x='835.7' y='612.4' width='23.9' height='6.8' fill='#1ce300'/><rect x='835.7' y='620.1' width='23.9' height='6.8' fill='#1ce300'/><rect x='835.7' y='627.9' width='23.9' height='6.8' fill='#1ce300'/><rect x='835.7' y='635.6' width='23.9' height='6.8' fill='#00ff00'/><rect x='835.7' y='643.4' width='23.9' height='6.8' fill='#00ff00'/><rect x='835.7' y='651.1' width='23.9' height='6.8' fill='#00ff00'/><rect x='835.7' y='658.9' width='23.9' height='6.8' fill='#00ff00'/><rect x='835.7' y='666.6' width='23.9' height='6.8' fill='#00ff00'/><rect x='835.7' y='674.4' width='23.9' height='6.8' fill='#00ff00'/><rect x='835.7' y='682.1' width='23.9' height='6.8' fill='#00ff00'/><rect x='835.7' y='689.9' width='23.9' height='6.8' fill='#00ff00'/><rect x='835.7' y='697.6' width='23.9' height='6.8' fill='#00ff00'/><rect x='835.7' y='705.4' width='23.9' height='6.8' fill='#00ff00'/><rect x='835.7' y='713.1' width='23.9' height='6.8' fill='#00ff00'/><rect x='835.7' y='720.9' width='23.9' height='6.8' fill='#00ff00'/><rect x='835.7' y='728.6' width='23.9' height='6.8' fill='#00ff00'/><rect x='835.7' y='736.4' width='23.9' height='6.8' fill='#00ff00'/><rect x='835.7' y='744.1' width='23.9' height='6.8' fill='#1ce300'/><rect x='835.7' y='751.9' width='23.9' height='6.8' fill='#1ce300'/><rect x='860.7' y='581.4' width='23.9' height='6.8' fill='#1ce300'/><rect x='860.7' y='589.1' width='23.9' height='6.8' fill='#55aa00'/><rect x='860.7' y='596.9' width='23.9' height='6.8' fill='#55aa00'/><rect x='860.7' y='604.6' width='23.9' height='6.8' fill='#39c600'/><rect x='860.7' y='612.4' width='23.9' height='6.8' fill='#718e00'/><rect x='860.7' y='620.1' width='23.9' height='6.8' fill='#55aa00'/><rect x='860.7' y='627.9' width='23.9' height='6.8' fill='#c63900'/><rect x='860.7' y='635.6' width='23.9' height='6.8' fill='#aa5500'/><rect x='860.7' y='643.4' width='23.9' height='6.8' fill='#c63900'/><rect x='860.7' y='651.1' width='23.9' height='6.8' fill='#c63900'/><rect x='860.7' y='658.9' width='23.9' height='6.8' fill='#aa5500'/><rect x='860.7' y='666.6' width='23.9' height='6.8' fill='#ff0000'/><rect x='860.7' y='674.4' width='23.9' height='6.8' fill='#c63900'/><rect x='860.7' y='682.1' width='23.9' height='6.8' fill='#c63900'/><rect x='860.7' y='689.9' width='23.9' height='6.8' fill='#ff0000'/><rect x='860.7' y='697.6' width='23.9' height='6.8' fill='#aa5500'/><rect x='860.7' y='705.4' width='23.9' height='6.8' fill='#e31c00'/><rect x='860.7' y='713.1' width='23.9' height='6.8' fill='#e31c00'/><rect x='860.7' y='720.9' width='23.9' height='6.8' fill='#c63900'/><rect x='860.7' y='728.6' width='23.9' height='6.8' fill='#c63900'/><rect x='860.7' y='736.4' width='23.9' height='6.8' fill='#aa5500'/><rect x='860.7' y='744.1' width='23.9' height='6.8' fill='#aa5500'/><rect x='860.7' y='751.9' width='23.9' height='6.8' fill='#8e7100'/><rect x='885.7' y='581.4' width='23.9' height='6.8' fill='#8e7100'/><rect x='885.7' y='589.1' width='23.9' height='6.8' fill='#1ce300'/><rect x='885.7' y='596.9' width='23.9' height='6.8' fill='#718e00'/><rect x='885.7' y='604.6' width='23.9' height='6.8' fill='#718e00'/><rect x='885.7' y='612.4' width='23.9' height='6.8' fill='#39c600'/><rect x='885.7' y='620.1' width='23.9' height='6.8' fill='#8e7100'/><rect x='885.7' y='627.9' width='23.9' height='6.8' fill='#c63900'/><rect x='885.7' y='635.6' width='23.9' height='6.8' fill='#e31c00'/><rect x='885.7' y='643.4' width='23.9' height='6.8' fill='#e31c00'/><rect x='885.7' y='651.1' width='23.9' height='6.8' fill='#e31c00'/><rect x='885.7' y='658.9' width='23.9' height='6.8' fill='#aa5500'/><rect x='885.7' y='666.6' width='23.9' height='6.8' fill='#aa5500'/><rect x='885.7' y='674.4' width='23.9' height='6.8' fill='#55aa00'/><rect x='885.7' y='682.1' width='23.9' height='6.8' fill='#e31c00'/><rect x='885.7' y='689.9' width='23.9' height='6.8' fill='#8e7100'/><rect x='885.7' y='697.6' width='23.9' height='6.8' fill='#8e7100'/><rect x='885.7' y='705.4' width='23.9' height='6.8' fill='#aa5500'/><rect x='885.7' y='713.1' width='23.9' height='6.8' fill='#c63900'/><rect x='885.7' y='720.9' width='23.9' height='6.8' fill='#c63900'/><rect x='885.7' y='728.6' width='23.9' height='6.8' fill='#8e7100'/><rect x='885.7' y='736.4' width='23.9' height='6.8' fill='#ff0000'/><rect x='885.7' y='744.1' width='23.9' height='6.8' fill='#8e7100'/><rect x='885.7' y='751.9' width='23.9' height='6.8' fill='#55aa00'/><rect x='910.7' y='581.4' width='23.9' height='6.8' fill='#55aa00'/><rect x='910.7' y='589.1' width='23.9' height='6.8' fill='#39c600'/><rect x='910.7' y='596.9' width='23.9' height='6.8' fill='#55aa00'/><rect x='910.7' y='604.6' width='23.9' height='6.8' fill='#39c600'/><rect x='910.7' y='612.4' width='23.9' height='6.8' fill='#39c600'/><rect x='910.7' y='620.1' width='23.9' height='6.8' fill='#aa5500'/><rect x='910.7' y='627.9' width='23.9' height='6.8' fill='#55aa00'/><rect x='910.7' y='635.6' width='23.9' height='6.8' fill='#c63900'/><rect x='910.7' y='643.4' width='23.9' height='6.8' fill='#718e00'/><rect x='910.7' y='651.1' width='23.9' height='6.8' fill='#e31c00'/><rect x='910.7' y='658.9' width='23.9' height='6.8' fill='#718e00'/><rect x='910.7' y='666.6' width='23.9' height='6.8' fill='#c63900'/><rect x='910.7' y='674.4' width='23.9' height='6.8' fill='#aa5500'/><rect x='910.7' y='682.1' width='23.9' height='6.8' fill='#c63900'/><rect x='910.7' y='689.9' width='23.9' height='6.8' fill='#c63900'/><rect x='910.7' y='697.6' width='23.9' height='6.8' fill='#aa5500'/><rect x='910.7' y='705.4' width='23.9' height='6.8' fill='#aa5500'/><rect x='910.7' y='713.1' width='23.9' height='6.8' fill='#8e7100'/><rect x='910.7' y='720.9' width='23.9' height='6.8' fill='#8e7100'/><rect x='910.7' y='728.6' width='23.9' height='6.8' fill='#aa5500'/><rect x='910.7' y='736.4' width='23.9' height='6.8' fill='#718e00'/><rect x='910.7' y='744.1' width='23.9' height='6.8' fill='#718e00'/><rect x='910.7' y='751.9' width='23.9' height='6.8' fill='#55aa00'/><rect x='935.7' y='581.4' width='23.9' height='6.8' fill='#8e7100'/><rect x='935.7' y='589.1' width='23.9' height='6.8' fill='#1ce300'/><rect x='935.7' y='596.9' width='23.9' height='6.8' fill='#8e7100'/><rect x='935.7' y='604.6' width='23.9' height='6.8' fill='#39c600'/><rect x='935.7' y='612.4' width='23.9' height='6.8' fill='#718e00'/><rect x='935.7' y='620.1' width='23.9' height='6.8' fill='#55aa00'/><rect x='935.7' y='627.9' width='23.9' height='6.8' fill='#ff0000'/><rect x='935.7' y='635.6' width='23.9' height='6.8' fill='#8e7100'/><rect x='935.7' y='643.4' width='23.9' height='6.8' fill='#e31c00'/><rect x='935.7' y='651.1' width='23.9' height='6.8' fill='#aa5500'/><rect x='935.7' y='658.9' width='23.9' height='6.8' fill='#e31c00'/><rect x='935.7' y='666.6' width='23.9' height='6.8' fill='#aa5500'/><rect x='935.7' y='674.4' width='23.9' height='6.8' fill='#e31c00'/><rect x='935.7' y='682.1' width='23.9' height='6.8' fill='#c63900'/><rect x='935.7' y='689.9' width='23.9' height='6.8' fill='#718e00'/><rect x='935.7' y='697.6' width='23.9' height='6.8' fill='#aa5500'/><rect x='935.7' y='705.4' width='23.9' height='6.8' fill='#e31c00'/><rect x='935.7' y='713.1' width='23.9' height='6.8' fill='#55aa00'/><rect x='935.7' y='720.9' width='23.9' height='6.8' fill='#8e7100'/><rect x='935.7' y='728.6' width='23.9' height='6.8' fill='#8e7100'/><rect x='935.7' y='736.4' width='23.9' height='6.8' fill='#c63900'/><rect x='935.7' y='744.1' width='23.9' height='6.8' fill='#718e00'/><rect x='935.7' y='751.9' width='23.9' height='6.8' fill='#55aa00'/><rect x='960.7' y='581.4' width='23.9' height='6.8' fill='#55aa00'/><rect x='960.7' y='589.1' width='23.9' height='6.8' fill='#55aa00'/><rect x='960.7' y='596.9' width='23.9' height='6.8' fill='#39c600'/><rect x='960.7' y='604.6' width='23.9' height='6.8' fill='#718e00'/><rect x='960.7' y='612.4' width='23.9' height='6.8' fill='#1ce300'/><rect x='960.7' y='620.1' width='23.9' height='6.8' fill='#718e00'/><rect x='960.7' y='627.9' width='23.9' height='6.8' fill='#55aa00'/><rect x='960.7' y='635.6' width='23.9' height='6.8' fill='#e31c00'/><rect x='960.7' y='643.4' width='23.9' height='6.8' fill='#c63900'/><rect x='960.7' y='651.1' width='23.9' height='6.8' fill='#c63900'/><rect x='960.7' y='658.9' width='23.9' height='6.8' fill='#e31c00'/><rect x='960.7' y='666.6' width='23.9' height='6.8' fill='#c63900'/><rect x='960.7' y='674.4' width='23.9' height='6.8' fill='#8e7100'/><rect x='960.7' y='682.1' width='23.9' height='6.8' fill='#aa5500'/><rect x='960.7' y='689.9' width='23.9' height='6.8' fill='#e31c00'/><rect x='960.7' y='697.6' width='23.9' height='6.8' fill='#718e00'/><rect x='960.7' y='705.4' width='23.9' height='6.8' fill='#aa5500'/><rect x='960.7' y='713.1' width='23.9' height='6.8' fill='#aa5500'/><rect x='960.7' y='720.9' width='23.9' height='6.8' fill='#718e00'/><rect x='960.7' y='728.6' width='23.9' height='6.8' fill='#c63900'/><rect x='960.7' y='736.4' width='23.9' height='6.8' fill='#718e00'/><rect x='960.7' y='744.1' width='23.9' height='6.8' fill='#39c600'/><rect x='960.7' y='751.9' width='23.9' height='6.8' fill='#55aa00'/><rect x='985.7' y='581.4' width='23.9' height='6.8' fill='#1ce300'/><rect x='985.7' y='589.1' width='23.9' height='6.8' fill='#55aa00'/><rect x='985.7' y='596.9' width='23.9' height='6.8' fill='#39c600'/><rect x='985.7' y='604.6' width='23.9' height='6.8' fill='#55aa00'/><rect x='985.7' y='612.4' width='23.9' height='6.8' fill='#00ff00'/><rect x='985.7' y='620.1' width='23.9' height='6.8' fill='#1ce300'/><rect x='985.7' y='627.9' width='23.9' height='6.8' fill='#39c600'/><rect x='985.7' y='635.6' width='23.9' height='6.8' fill='#39c600'/><rect x='985.7' y='643.4' width='23.9' height='6.8' fill='#55aa00'/><rect x='985.7' y='651.1' width='23.9' height='6.8' fill='#39c600'/><rect x='985.7' y='658.9' width='23.9' height='6.8' fill='#55aa00'/><rect x='985.7' y='666.6' width='23.9' height='6.8' fill='#00ff00'/><rect x='985.7' y='674.4' width='23.9' height='6.8' fill='#55aa00'/><rect x='985.7' y='682.1' width='23.9' height='6.8' fill='#39c600'/><rect x='985.7' y='689.9' width='23.9' height='6.8' fill='#39c600'/><rect x='985.7' y='697.6' width='23.9' height='6.8' fill='#1ce300'/><rect x='985.7' y='705.4' width='23.9' height='6.8' fill='#39c600'/><rect x='985.7' y='713.1' width='23.9' height='6.8' fill='#1ce300'/><rect x='985.7' y='720.9' width='23.9' height='6.8' fill='#00ff00'/><rect x='985.7' y='728.6' width='23.9' height='6.8' fill='#1ce300'/><rect x='985.7' y='736.4' width='23.9' height='6.8' fill='#55aa00'/><rect x='985.7' y='744.1' width='23.9' height='6.8' fill='#1ce300'/><rect x='985.7' y='751.9' width='23.9' height='6.8' fill='#00ff00'/><rect x='1010.7' y='581.4' width='23.9' height='6.8' fill='#1ce300'/><rect x='1010.7' y='589.1' width='23.9' height='6.8' fill='#00ff00'/><rect x='1010.7' y='596.9' width='23.9' height='6.8' fill='#00ff00'/><rect x='1010.7' y='604.6' width='23.9' height='6.8' fill='#00ff00'/><rect x='1010.7' y='612.4' width='23.9' height='6.8' fill='#00ff00'/><rect x='1010.7' y='620.1' width='23.9' height='6.8' fill='#00ff00'/><rect x='1010.7' y='627.9' width='23.9' height='6.8' fill='#00ff00'/><rect x='1010.7' y='635.6' width='23.9' height='6.8' fill='#00ff00'/><rect x='1010.7' y='643.4' width='23.9' height='6.8' fill='#00ff00'/><rect x='1010.7' y='651.1' width='23.9' height='6.8' fill='#00ff00'/><rect x='1010.7' y='658.9' width='23.9' height='6.8' fill='#00ff00'/><rect x='1010.7' y='666.6' width='23.9' height='6.8' fill='#00ff00'/><rect x='1010.7' y='674.4' width='23.9' height='6.8' fill='#00ff00'/><rect x='1010.7' y='682.1' width='23.9' height='6.8' fill='#00ff00'/><rect x='1010.7' y='689.9' width='23.9' height='6.8' fill='#1ce300'/><rect x='1010.7' y='697.6' width='23.9' height='6.8' fill='#00ff00'/><rect x='1010.7' y='705.4' width='23.9' height='6.8' fill='#00ff00'/><rect x='1010.7' y='713.1' width='23.9' height='6.8' fill='#00ff00'/><rect x='1010.7' y='720.9' width='23.9' height='6.8' fill='#00ff00'/><rect x='1010.7' y='728.6' width='23.9' height='6.8' fill='#00ff00'/><rect x='1010.7' y='736.4' width='23.9' height='6.8' fill='#00ff00'/><rect x='1010.7' y='744.1' width='23.9' height='6.8' fill='#00ff00'/><rect x='1010.7' y='751.9' width='23.9' height='6.8' fill='#00ff00'/><rect x='1035.7' y='581.4' width='23.9' height='6.8' fill='#00ff00'/><rect x='1035.7' y='589.1' width='23.9' height='6.8' fill='#00ff00'/><rect x='1035.7' y='596.9' width='23.9' height='6.8' fill='#00ff00'/><rect x='1035.7' y='604.6' width='23.9' height='6.8' fill='#00ff00'/><rect x='1035.7' y='612.4' width='23.9' height='6.8' fill='#00ff00'/><rect x='1035.7' y='620.1' width='23.9' height='6.8' fill='#1ce300'/><rect x='1035.7' y='627.9' width='23.9' height='6.8' fill='#55aa00'/><rect x='1035.7' y='635.6' width='23.9' height='6.8' fill='#8e7100'/><rect x='1035.7' y='643.4' width='23.9' height='6.8' fill='#aa5500'/><rect x='1035.7' y='651.1' width='23.9' height='6.8' fill='#e31c00'/><rect x='1035.7' y='658.9' width='23.9' height='6.8' fill='#718e00'/><rect x='1035.7' y='666.6' width='23.9' height='6.8' fill='#c63900'/><rect x='1035.7' y='674.4' width='23.9' height='6.8' fill='#aa5500'/><rect x='1035.7' y='682.1' width='23.9' height='6.8' fill='#aa5500'/><rect x='1035.7' y='689.9' width='23.9' height='6.8' fill='#c63900'/><rect x='1035.7' y='697.6' width='23.9' height='6.8' fill='#718e00'/><rect x='1035.7' y='705.4' width='23.9' height='6.8' fill='#718e00'/><rect x='1035.7' y='713.1' width='23.9' height='6.8' fill='#718e00'/><rect x='1035.7' y='720.9' width='23.9' height='6.8' fill='#55aa00'/><rect x='1035.7' y='728.6' width='23.9' height='6.8' fill='#39c600'/><rect x='1035.7' y='736.4' width='23.9' height='6.8' fill='#39c600'/><rect x='1035.7' y='744.1' width='23.9' height='6.8' fill='#1ce300'/><rect x='1035.7' y='751.9' width='23.9' height='6.8' fill='#39c600'/><rect x='1060.7' y='581.4' width='23.9' height='6.8' fill='#00ff00'/><rect x='1060.7' y='589.1' width='23.9' height='6.8' fill='#00ff00'/><rect x='1060.7' y='596.9' width='23.9' height='6.8' fill='#00ff00'/><rect x='1060.7' y='604.6' width='23.9' height='6.8' fill='#00ff00'/><rect x='1060.7' y='612.4' width='23.9' height='6.8' fill='#00ff00'/><rect x='1060.7' y='620.1' width='23.9' height='6.8' fill='#00ff00'/><rect x='1060.7' y='627.9' width='23.9' height='6.8' fill='#1ce300'/><rect x='1060.7' y='635.6' width='23.9' height='6.8' fill='#55aa00'/><rect x='1060.7' y='643.4' width='23.9' height='6.8' fill='#39c600'/><rect x='1060.7' y='651.1' width='23.9' height='6.8' fill='#55aa00'/><rect x='1060.7' y='658.9' width='23.9' height='6.8' fill='#1ce300'/><rect x='1060.7' y='666.6' width='23.9' height='6.8' fill='#718e00'/><rect x='1060.7' y='674.4' width='23.9' height='6.8' fill='#718e00'/><rect x='1060.7' y='682.1' width='23.9' height='6.8' fill='#39c600'/><rect x='1060.7' y='689.9' width='23.9' height='6.8' fill='#8e7100'/><rect x='1060.7' y='697.6' width='23.9' height='6.8' fill='#718e00'/><rect x='1060.7' y='705.4' width='23.9' height='6.8' fill='#1ce300'/><rect x='1060.7' y='713.1' width='23.9' height='6.8' fill='#39c600'/><rect x='1060.7' y='720.9' width='23.9' height='6.8' fill='#1ce300'/><rect x='1060.7' y='728.6' width='23.9' height='6.8' fill='#00ff00'/><rect x='1060.7' y='736.4' width='23.9' height='6.8' fill='#1ce300'/><rect x='1060.7' y='744.1' width='23.9' height='6.8' fill='#00ff00'/><rect x='1060.7' y='751.9' width='23.9' height='6.8' fill='#00ff00'/><rect x='1085.7' y='581.4' width='23.9' height='6.8' fill='#00ff00'/><rect x='1085.7' y='589.1' width='23.9' height='6.8' fill='#00ff00'/><rect x='1085.7' y='596.9' width='23.9' height='6.8' fill='#00ff00'/><rect x='1085.7' y='604.6' width='23.9' height='6.8' fill='#00ff00'/><rect x='1085.7' y='612.4' width='23.9' height='6.8' fill='#00ff00'/><rect x='1085.7' y='620.1' width='23.9' height='6.8' fill='#00ff00'/><rect x='1085.7' y='627.9' width='23.9' height='6.8' fill='#1ce300'/><rect x='1085.7' y='635.6' width='23.9' height='6.8' fill='#1ce300'/><rect x='1085.7' y='643.4' width='23.9' height='6.8' fill='#1ce300'/><rect x='1085.7' y='651.1' width='23.9' height='6.8' fill='#1ce300'/><rect x='1085.7' y='658.9' width='23.9' height='6.8' fill='#39c600'/><rect x='1085.7' y='666.6' width='23.9' height='6.8' fill='#718e00'/><rect x='1085.7' y='674.4' width='23.9' height='6.8' fill='#39c600'/><rect x='1085.7' y='682.1' width='23.9' height='6.8' fill='#8e7100'/><rect x='1085.7' y='689.9' width='23.9' height='6.8' fill='#8e7100'/><rect x='1085.7' y='697.6' width='23.9' height='6.8' fill='#55aa00'/><rect x='1085.7' y='705.4' width='23.9' height='6.8' fill='#39c600'/><rect x='1085.7' y='713.1' width='23.9' height='6.8' fill='#39c600'/><rect x='1085.7' y='720.9' width='23.9' height='6.8' fill='#1ce300'/><rect x='1085.7' y='728.6' width='23.9' height='6.8' fill='#1ce300'/><rect x='1085.7' y='736.4' width='23.9' height='6.8' fill='#1ce300'/><rect x='1085.7' y='744.1' width='23.9' height='6.8' fill='#1ce300'/><rect x='1085.7' y='751.9' width='23.9' height='6.8' fill='#00ff00'/><rect x='1110.7' y='581.4' width='23.9' height='6.8' fill='#1ce300'/><rect x='1110.7' y='589.1' width='23.9' height='6.8' fill='#00ff00'/><rect x='1110.7' y='596.9' width='23.9' height='6.8' fill='#00ff00'/><rect x='1110.7' y='604.6' width='23.9' height='6.8' fill='#00ff00'/><rect x='1110.7' y='612.4' width='23.9' height='6.8' fill='#39c600'/><rect x='1110.7' y='620.1' width='23.9' height='6.8' fill='#00ff00'/><rect x='1110.7' y='627.9' width='23.9' height='6.8' fill='#1ce300'/><rect x='1110.7' y='635.6' width='23.9' height='6.8' fill='#1ce300'/><rect x='1110.7' y='643.4' width='23.9' height='6.8' fill='#1ce300'/><rect x='1110.7' y='651.1' width='23.9' height='6.8' fill='#1ce300'/><rect x='1110.7' y='658.9' width='23.9' height='6.8' fill='#1ce300'/><rect x='1110.7' y='666.6' width='23.9' height='6.8' fill='#718e00'/><rect x='1110.7' y='674.4' width='23.9' height='6.8' fill='#55aa00'/><rect x='1110.7' y='682.1' width='23.9' height='6.8' fill='#8e7100'/><rect x='1110.7' y='689.9' width='23.9' height='6.8' fill='#718e00'/><rect x='1110.7' y='697.6' width='23.9' height='6.8' fill='#39c600'/><rect x='1110.7' y='705.4' width='23.9' height='6.8' fill='#1ce300'/><rect x='1110.7' y='713.1' width='23.9' height='6.8' fill='#00ff00'/><rect x='1110.7' y='720.9' width='23.9' height='6.8' fill='#00ff00'/><rect x='1110.7' y='728.6' width='23.9' height='6.8' fill='#00ff00'/><rect x='1110.7' y='736.4' width='23.9' height='6.8' fill='#00ff00'/><rect x='1110.7' y='744.1' width='23.9' height='6.8' fill='#00ff00'/><rect x='1110.7' y='751.9' width='23.9' height='6.8' fill='#00ff00'/><rect x='1135.7' y='581.4' width='23.9' height='6.8' fill='#00ff00'/><rect x='1135.7' y='589.1' width='23.9' height='6.8' fill='#00ff00'/><rect x='1135.7' y='596.9' width='23.9' height='6.8' fill='#00ff00'/><rect x='1135.7' y='604.6' width='23.9' height='6.8' fill='#00ff00'/><rect x='1135.7' y='612.4' width='23.9' height='6.8' fill='#00ff00'/><rect x='1135.7' y='620.1' width='23.9' height='6.8' fill='#00ff00'/><rect x='1135.7' y='627.9' width='23.9' height='6.8' fill='#1ce300'/><rect x='1135.7' y='635.6' width='23.9' height='6.8' fill='#00ff00'/><rect x='1135.7' y='643.4' width='23.9' height='6.8' fill='#00ff00'/><rect x='1135.7' y='651.1' width='23.9' height='6.8' fill='#1ce300'/><rect x='1135.7' y='658.9' width='23.9' height='6.8' fill='#55aa00'/><rect x='1135.7' y='666.6' width='23.9' height='6.8' fill='#39c600'/><rect x='1135.7' y='674.4' width='23.9' height='6.8' fill='#718e00'/><rect x='1135.7' y='682.1' width='23.9' height='6.8' fill='#718e00'/><rect x='1135.7' y='689.9' width='23.9' height='6.8' fill='#39c600'/><rect x='1135.7' y='697.6' width='23.9' height='6.8' fill='#00ff00'/><rect x='1135.7' y='705.4' width='23.9' height='6.8' fill='#00ff00'/><rect x='1135.7' y='713.1' width='23.9' height='6.8' fill='#00ff00'/><rect x='1135.7' y='720.9' width='23.9' height='6.8' fill='#00ff00'/><rect x='1135.7' y='728.6' width='23.9' height='6.8' fill='#00ff00'/><rect x='1135.7' y='736.4' width='23.9' height='6.8' fill='#00ff00'/><rect x='1135.7' y='744.1' width='23.9' height='6.8' fill='#1ce300'/><rect x='1135.7' y='751.9' width='23.9' height='6.8' fill='#00ff00'/><rect x='1160.7' y='581.4' width='23.9' height='6.8' fill='#00ff00'/><rect x='1160.7' y='589.1' width='23.9' height='6.8' fill='#00ff00'/><rect x='1160.7' y='596.9' width='23.9' height='6.8' fill='#00ff00'/><rect x='1160.7' y='604.6' width='23.9' height='6.8' fill='#00ff00'/><rect x='1160.7' y='612.4' width='23.9' height='6.8' fill='#00ff00'/><rect x='1160.7' y='620.1' width='23.9' height='6.8' fill='#1ce300'/><rect x='1160.7' y='627.9' width='23.9' height='6.8' fill='#00ff00'/><rect x='1160.7' y='635.6' width='23.9' height='6.8' fill='#00ff00'/><rect x='1160.7' y='643.4' width='23.9' height='6.8' fill='#00ff00'/><rect x='1160.7' y='651.1' width='23.9' height='6.8' fill='#00ff00'/><rect x='1160.7' y='658.9' width='23.9' height='6.8' fill='#00ff00'/><rect x='1160.7' y='666.6' width='23.9' height='6.8' fill='#00ff00'/><rect x='1160.7' y='674.4' width='23.9' height='6.8' fill='#1ce300'/><rect x='1160.7' y='682.1' width='23.9' height='6.8' fill='#00ff00'/><rect x='1160.7' y='689.9' width='23.9' height='6.8' fill='#00ff00'/><rect x='1160.7' y='697.6' width='23.9' height='6.8' fill='#00ff00'/><rect x='1160.7' y='705.4' width='23.9' height='6.8' fill='#00ff00'/><rect x='1160.7' y='713.1' width='23.9' height='6.8' fill='#00ff00'/><rect x='1160.7' y='720.9' width='23.9' height='6.8' fill='#00ff00'/><rect x='1160.7' y='728.6' width='23.9' height='6.8' fill='#00ff00'/><rect x='1160.7' y='736.4' width='23.9' height='6.8' fill='#00ff00'/><rect x='1160.7' y='744.1' width='23.9' height='6.8' fill='#00ff00'/><rect x='1160.7' y='751.9' width='23.9' height='6.8' fill='#00ff00'/><rect x='1185.7' y='581.4' width='23.9' height='6.8' fill='#00ff00'/><rect x='1185.7' y='589.1' width='23.9' height='6.8' fill='#00ff00'/><rect x='1185.7' y='596.9' width='23.9' height='6.8' fill='#00ff00'/><rect x='1185.7' y='604.6' width='23.9' height='6.8' fill='#00ff00'/><rect x='1185.7' y='612.4' width='23.9' height='6.8' fill='#00ff00'/><rect x='1185.7' y='620.1' width='23.9' height='6.8' fill='#00ff00'/><rect x='1185.7' y='627.9' width='23.9' height='6.8' fill='#00ff00'/><rect x='1185.7' y='635.6' width='23.9' height='6.8' fill='#00ff00'/><rect x='1185.7' y='643.4' width='23.9' height='6.8' fill='#00ff00'/><rect x='1185.7' y='651.1' width='23.9' height='6.8' fill='#00ff00'/><rect x='1185.7' y='658.9' width='23.9' height='6.8' fill='#00ff00'/><rect x='1185.7' y='666.6' width='23.9' height='6.8' fill='#00ff00'/><rect x='1185.7' y='674.4' width='23.9' height='6.8' fill='#00ff00'/><rect x='1185.7' y='682.1' width='23.9' height='6.8' fill='#00ff00'/><rect x='1185.7' y='689.9' width='23.9' height='6.8' fill='#00ff00'/><rect x='1185.7' y='697.6' width='23.9' height='6.8' fill='#00ff00'/><rect x='1185.7' y='705.4' width='23.9' height='6.8' fill='#00ff00'/><rect x='1185.7' y='713.1' width='23.9' height='6.8' fill='#00ff00'/><rect x='1185.7' y='720.9' width='23.9' height='6.8' fill='#00ff00'/><rect x='1185.7' y='728.6' width='23.9' height='6.8' fill='#00ff00'/><rect x='1185.7' y='736.4' width='23.9' height='6.8' fill='#00ff00'/><rect x='1185.7' y='744.1' width='23.9' height='6.8' fill='#00ff00'/><rect x='1185.7' y='751.9' width='23.9' height='6.8' fill='#00ff00'/><rect x='1210.7' y='581.4' width='23.9' height='6.8' fill='#00ff00'/><rect x='1210.7' y='589.1' width='23.9' height='6.8' fill='#00ff00'/><rect x='1210.7' y='596.9' width='23.9' height='6.8' fill='#00ff00'/><rect x='1210.7' y='604.6' width='23.9' height='6.8' fill='#00ff00'/><rect x='1210.7' y='612.4' width='23.9' height='6.8' fill='#1ce300'/><rect x='1210.7' y='620.1' width='23.9' height='6.8' fill='#00ff00'/><rect x='1210.7' y='627.9' width='23.9' height='6.8' fill='#00ff00'/><rect x='1210.7' y='635.6' width='23.9' height='6.8' fill='#00ff00'/><rect x='1210.7' y='643.4' width='23.9' height='6.8' fill='#1ce300'/><rect x='1210.7' y='651.1' width='23.9' height='6.8' fill='#00ff00'/><rect x='1210.7' y='658.9' width='23.9' height='6.8' fill='#00ff00'/><rect x='1210.7' y='666.6' width='23.9' height='6.8' fill='#00ff00'/><rect x='1210.7' y='674.4' width='23.9' height='6.8' fill='#00ff00'/><rect x='1210.7' y='682.1' width='23.9' height='6.8' fill='#00ff00'/><rect x='1210.7' y='689.9' width='23.9' height='6.8' fill='#39c600'/><rect x='1210.7' y='697.6' width='23.9' height='6.8' fill='#00ff00'/><rect x='1210.7' y='705.4' width='23.9' height='6.8' fill='#1ce300'/><rect x='1210.7' y='713.1' width='23.9' height='6.8' fill='#00ff00'/><rect x='1210.7' y='720.9' width='23.9' height='6.8' fill='#00ff00'/><rect x='1210.7' y='728.6' width='23.9' height='6.8' fill='#00ff00'/><rect x='1210.7' y='736.4' width='23.9' height='6.8' fill='#00ff00'/><rect x='1210.7' y='744.1' width='23.9' height='6.8' fill='#00ff00'/><rect x='1210.7' y='751.9' width='23.9' height='6.8' fill='#00ff00'/><rect x='1235.7' y='581.4' width='23.9' height='6.8' fill='#1ce300'/><rect x='1235.7' y='589.1' width='23.9' height='6.8' fill='#00ff00'/><rect x='1235.7' y='596.9' width='23.9' height='6.8' fill='#00ff00'/><rect x='1235.7' y='604.6' width='23.9' height='6.8' fill='#00ff00'/><rect x='1235.7' y='612.4' width='23.9' height='6.8' fill='#00ff00'/><rect x='1235.7' y='620.1' width='23.9' height='6.8' fill='#00ff00'/><rect x='1235.7' y='627.9' width='23.9' height='6.8' fill='#1ce300'/><rect x='1235.7' y='635.6' width='23.9' height='6.8' fill='#1ce300'/><rect x='1235.7' y='643.4' width='23.9' height='6.8' fill='#39c600'/><rect x='1235.7' y='651.1' width='23.9' height='6.8' fill='#39c600'/><rect x='1235.7' y='658.9' width='23.9' height='6.8' fill='#39c600'/><rect x='1235.7' y='666.6' width='23.9' height='6.8' fill='#55aa00'/><rect x='1235.7' y='674.4' width='23.9' height='6.8' fill='#55aa00'/><rect x='1235.7' y='682.1' width='23.9' height='6.8' fill='#718e00'/><rect x='1235.7' y='689.9' width='23.9' height='6.8' fill='#39c600'/><rect x='1235.7' y='697.6' width='23.9' height='6.8' fill='#718e00'/><rect x='1235.7' y='705.4' width='23.9' height='6.8' fill='#39c600'/><rect x='1235.7' y='713.1' width='23.9' height='6.8' fill='#39c600'/><rect x='1235.7' y='720.9' width='23.9' height='6.8' fill='#55aa00'/><rect x='1235.7' y='728.6' width='23.9' height='6.8' fill='#39c600'/><rect x='1235.7' y='736.4' width='23.9' height='6.8' fill='#1ce300'/><rect x='1235.7' y='744.1' width='23.9' height='6.8' fill='#00ff00'/><rect x='1235.7' y='751.9' width='23.9' height='6.8' fill='#39c600'/><rect x='1260.7' y='581.4' width='23.9' height='6.8' fill='#00ff00'/><rect x='1260.7' y='589.1' width='23.9' height='6.8' fill='#1ce300'/><rect x='1260.7' y='596.9' width='23.9' height='6.8' fill='#00ff00'/><rect x='1260.7' y='604.6' width='23.9' height='6.8' fill='#1ce300'/><rect x='1260.7' y='612.4' width='23.9' height='6.8' fill='#00ff00'/><rect x='1260.7' y='620.1' width='23.9' height='6.8' fill='#1ce300'/><rect x='1260.7' y='627.9' width='23.9' height='6.8' fill='#39c600'/><rect x='1260.7' y='635.6' width='23.9' height='6.8' fill='#55aa00'/><rect x='1260.7' y='643.4' width='23.9' height='6.8' fill='#55aa00'/><rect x='1260.7' y='651.1' width='23.9' height='6.8' fill='#8e7100'/><rect x='1260.7' y='658.9' width='23.9' height='6.8' fill='#39c600'/><rect x='1260.7' y='666.6' width='23.9' height='6.8' fill='#718e00'/><rect x='1260.7' y='674.4' width='23.9' height='6.8' fill='#55aa00'/><rect x='1260.7' y='682.1' width='23.9' height='6.8' fill='#718e00'/><rect x='1260.7' y='689.9' width='23.9' height='6.8' fill='#55aa00'/><rect x='1260.7' y='697.6' width='23.9' height='6.8' fill='#1ce300'/><rect x='1260.7' y='705.4' width='23.9' height='6.8' fill='#39c600'/><rect x='1260.7' y='713.1' width='23.9' height='6.8' fill='#00ff00'/><rect x='1260.7' y='720.9' width='23.9' height='6.8' fill='#55aa00'/><rect x='1260.7' y='728.6' width='23.9' height='6.8' fill='#8e7100'/><rect x='1260.7' y='736.4' width='23.9' height='6.8' fill='#1ce300'/><rect x='1260.7' y='744.1' width='23.9' height='6.8' fill='#1ce300'/><rect x='1260.7' y='751.9' width='23.9' height='6.8' fill='#00ff00'/><rect x='1285.7' y='581.4' width='23.9' height='6.8' fill='#55aa00'/><rect x='1285.7' y='589.1' width='23.9' height='6.8' fill='#8e7100'/><rect x='1285.7' y='596.9' width='23.9' height='6.8' fill='#39c600'/><rect x='1285.7' y='604.6' width='23.9' height='6.8' fill='#718e00'/><rect x='1285.7' y='612.4' width='23.9' height='6.8' fill='#718e00'/><rect x='1285.7' y='620.1' width='23.9' height='6.8' fill='#39c600'/><rect x='1285.7' y='627.9' width='23.9' height='6.8' fill='#8e7100'/><rect x='1285.7' y='635.6' width='23.9' height='6.8' fill='#55aa00'/><rect x='1285.7' y='643.4' width='23.9' height='6.8' fill='#8e7100'/><rect x='1285.7' y='651.1' width='23.9' height='6.8' fill='#55aa00'/><rect x='1285.7' y='658.9' width='23.9' height='6.8' fill='#718e00'/><rect x='1285.7' y='666.6' width='23.9' height='6.8' fill='#39c600'/><rect x='1285.7' y='674.4' width='23.9' height='6.8' fill='#c63900'/><rect x='1285.7' y='682.1' width='23.9' height='6.8' fill='#8e7100'/><rect x='1285.7' y='689.9' width='23.9' height='6.8' fill='#39c600'/><line x1='1286' y1='704.9' x2='1310.5' y2='704.9' stroke='#e4e4e4' stroke-width='0.8'/><line x1='1286' y1='720.4' x2='1310.5' y2='720.4' stroke='#e4e4e4' stroke-width='0.8'/><line x1='1286' y1='735.9' x2='1310.5' y2='735.9' stroke='#e4e4e4' stroke-width='0.8'/><line x1='1286' y1='751.4' x2='1310.5' y2='751.4' stroke='#e4e4e4' stroke-width='0.8'/><defs><linearGradient id='lgl' x1='0' x2='1'><stop offset='0' stop-color='#00ff00'/><stop offset='1' stop-color='#ff0000'/></linearGradient></defs><rect x='760.7' y='775' width='549.7' height='10.5' fill='url(#lgl)'/><text x='764.7' y='770' font-size='7.6' fill='#777'>Minimalwert</text><text x='1257.7' y='770.2' font-size='8.4' fill='#555' textLength='48.8' lengthAdjust='spacingAndGlyphs'>Maximalwert</text><defs><clipPath id='cbar'><rect x='760.7' y='775' width='549.7' height='10.5'/></clipPath></defs><circle cx='1305.6' cy='780.3' r='6.4' fill='#ff9a9a' opacity='0.9' clip-path='url(#cbar)'/><circle cx='1307.2' cy='781' r='1.35' fill='#555'/><circle cx='1311.6' cy='781' r='1.35' fill='#555'/><circle cx='1316.0' cy='781' r='1.35' fill='#555'/><path d='M776.6 748.6h42.4a3 3 0 0 1 3 3v16.6a3 3 0 0 1-3 3h-18l-2.8 3-2.8-3h-18.8a3 3 0 0 1-3-3v-16.6a3 3 0 0 1 3-3z' fill='#1ee01e' fill-opacity='0.93' stroke='#8ef08e' stroke-width='0.6'/><text x='797.8' y='763.9' text-anchor='middle' font-size='10' fill='#111'>2,2 kW</text><rect x='640' y='441' width='5' height='2.3' fill='#fff'/><rect x='1037' y='441.3' width='5' height='2.3' fill='#fff'/></svg></body></html>
